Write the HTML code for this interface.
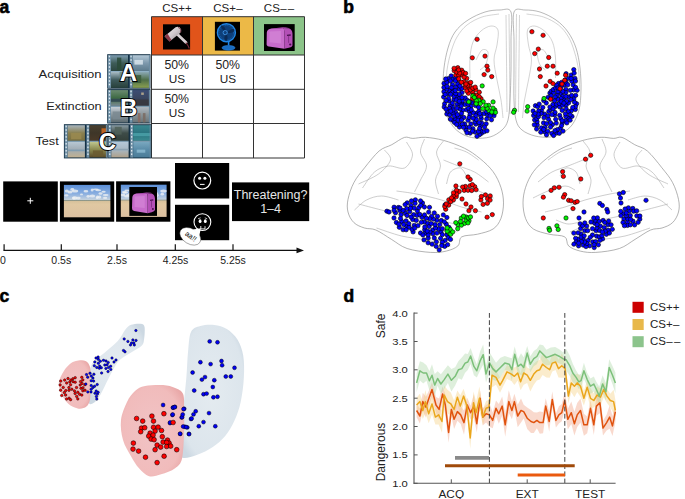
<!DOCTYPE html>
<html><head><meta charset="utf-8"><style>
html,body{margin:0;padding:0;background:#fff;width:685px;height:499px;overflow:hidden}
svg{display:block}
text{font-family:"Liberation Sans",sans-serif}
</style></head><body>
<svg width="685" height="499" viewBox="0 0 685 499">
<defs>
<linearGradient id="sky" x1="0" y1="0" x2="0" y2="1">
<stop offset="0" stop-color="#5b8fd8"/><stop offset="0.28" stop-color="#8cb0e0"/><stop offset="0.45" stop-color="#c2d0de"/><stop offset="0.48" stop-color="#8a9488"/><stop offset="0.5" stop-color="#d6c09a"/><stop offset="0.6" stop-color="#e0c8a2"/><stop offset="1" stop-color="#dcc0a0"/>
</linearGradient>
<filter id="blur1" x="-20%" y="-20%" width="140%" height="140%"><feGaussianBlur stdDeviation="0.6"/></filter>
<radialGradient id="toast" cx="0.4" cy="0.4" r="0.7">
<stop offset="0" stop-color="#e89be6"/><stop offset="0.6" stop-color="#c35fc4"/><stop offset="1" stop-color="#7a2a80"/>
</radialGradient>
</defs><text x="-0.6" y="12.9" font-family="Liberation Sans, sans-serif" font-size="17.5" font-weight="bold" fill="#000" stroke="#000" stroke-width="0.6">a</text><text x="343.2" y="12.9" font-family="Liberation Sans, sans-serif" font-size="17.5" font-weight="bold" fill="#000" stroke="#000" stroke-width="0.6">b</text><text x="-0.4" y="301.9" font-family="Liberation Sans, sans-serif" font-size="17.5" font-weight="bold" fill="#000" stroke="#000" stroke-width="0.6">c</text><text x="343.4" y="301.9" font-family="Liberation Sans, sans-serif" font-size="17.5" font-weight="bold" fill="#000" stroke="#000" stroke-width="0.6">d</text><rect x="151.5" y="16.7" width="51.0" height="38.3" fill="#e1541a"/><rect x="202.5" y="16.7" width="51.0" height="38.3" fill="#ecb947"/><rect x="253.5" y="16.7" width="51.0" height="38.3" fill="#8cc489"/><text x="177.0" y="12.1" font-family="Liberation Sans, sans-serif" font-size="11.5" text-anchor="middle" fill="#222">CS++</text><text x="228.0" y="12.1" font-family="Liberation Sans, sans-serif" font-size="11.5" text-anchor="middle" fill="#222">CS+<tspan dx="0.3">–</tspan></text><text x="279.0" y="12.1" font-family="Liberation Sans, sans-serif" font-size="11.5" text-anchor="middle" fill="#222">CS<tspan dx="0.3">–</tspan><tspan dx="1.2">–</tspan></text><rect x="163" y="24.3" width="27.1" height="25.2" fill="#000"/><defs><linearGradient id="dry" x1="0" y1="0" x2="1" y2="1"><stop offset="0" stop-color="#f2eeee"/><stop offset="0.5" stop-color="#cfc8cc"/><stop offset="1" stop-color="#8e8488"/></linearGradient></defs><path d="M176,33 L186,42.5" stroke="#d6cfd2" stroke-width="2.8" stroke-linecap="round"/><path d="M185.8,42.6 Q188,45 189.3,48.5" stroke="#7a2a3a" stroke-width="1.1" fill="none"/><path d="M164.6,36.2 L175.6,27.2 Q179.6,26 180.9,29.2 Q181.6,32 179.5,33.6 L169.6,41.6 Z" fill="url(#dry)"/><path d="M164.6,36.2 L167.6,33.8 L171.4,40 L169.6,41.6 Z" fill="#8a3646"/><path d="M178.2,27.5 Q181.8,28.5 180.6,32.6" stroke="#7a3a48" stroke-width="1" fill="none"/><rect x="214.9" y="21.8" width="25.1" height="28.8" fill="#000"/><circle cx="226.4" cy="32.7" r="9" fill="#0d3f7a" stroke="#1f86e6" stroke-width="1.4"/><circle cx="226.4" cy="32.7" r="7.2" fill="none" stroke="#1a74cc" stroke-width="0.6" stroke-dasharray="1,1"/><path d="M226.4,32.7 Q220,28 221,25.5 Q225,25 226.4,32.7 Z M226.4,32.7 Q233,27 234.5,30 Q233.5,34 226.4,32.7 Z M226.4,32.7 Q229,40 226,41 Q222.5,39 226.4,32.7 Z" fill="#0a2a55"/><circle cx="225.2" cy="32.6" r="2.1" fill="#0d3f7a" stroke="#4aa8ff" stroke-width="0.7"/><path d="M228.6,41.3 L228.6,45.5" stroke="#1f86e6" stroke-width="1.6"/><ellipse cx="228.5" cy="47.8" rx="6.5" ry="2.4" fill="#1a6cc0" stroke="#2a8ef0" stroke-width="0.5"/><rect x="264" y="24.1" width="30.7" height="26.9" fill="#000"/><path d="M266.8,32.6 Q267.1,28.9 271.6,28.5 L282.7,28.1 Q284.3,28.5 284.3,31.5 L284.3,48.8 L268.9,46.6 Q266.3,46.0 266.6,43.4 Z" fill="#c76ccb"/><path d="M282.7,28.1 L288.8,28.3 Q292.3,29.4 292.5,33.7 L292.5,45.6 Q292.0,47.3 288.8,47.7 L284.3,48.8 L284.3,31.5 Q284.3,28.5 282.7,28.1 Z" fill="#b350b6"/><path d="M269.5,31.5 L280.9,31.1 L280.9,43.4 L269.5,42.3 Z" fill="#d58ad8" opacity="0.6"/><path d="M270.3,28.7 L282.7,27.2 L288.8,27.6 L279.6,29.1 Z" fill="#a848ac"/><path d="M287.0,35.4 L290.7,35.0" stroke="#4a1050" stroke-width="1.3"/><path d="M288.6,35.4 L288.6,42.8" stroke="#6a2070" stroke-width="0.6"/><circle cx="290.2" cy="44.5" r="1.1" fill="#4a1050"/><line x1="151.5" y1="16.7" x2="151.5" y2="158.0" stroke="#333" stroke-width="1"/><line x1="202.5" y1="16.7" x2="202.5" y2="158.0" stroke="#333" stroke-width="1"/><line x1="253.5" y1="16.7" x2="253.5" y2="158.0" stroke="#333" stroke-width="1"/><line x1="304.5" y1="16.7" x2="304.5" y2="158.0" stroke="#333" stroke-width="1"/><line x1="151.5" y1="16.7" x2="304.5" y2="16.7" stroke="#333" stroke-width="1"/><line x1="151.5" y1="55.0" x2="304.5" y2="55.0" stroke="#333" stroke-width="1"/><line x1="151.5" y1="89.3" x2="304.5" y2="89.3" stroke="#333" stroke-width="1"/><line x1="151.5" y1="123.5" x2="304.5" y2="123.5" stroke="#333" stroke-width="1"/><line x1="151.5" y1="158.0" x2="304.5" y2="158.0" stroke="#333" stroke-width="1"/><text x="164.4" y="68.9" font-family="Liberation Sans, sans-serif" font-size="12" textLength="24.6" lengthAdjust="spacingAndGlyphs" fill="#222">50%</text><text x="177" y="82.7" font-family="Liberation Sans, sans-serif" font-size="11.8" text-anchor="middle" fill="#222">US</text><text x="215.4" y="68.9" font-family="Liberation Sans, sans-serif" font-size="12" textLength="24.6" lengthAdjust="spacingAndGlyphs" fill="#222">50%</text><text x="228" y="82.7" font-family="Liberation Sans, sans-serif" font-size="11.8" text-anchor="middle" fill="#222">US</text><text x="164.4" y="102.9" font-family="Liberation Sans, sans-serif" font-size="12" textLength="24.6" lengthAdjust="spacingAndGlyphs" fill="#222">50%</text><text x="177" y="116.7" font-family="Liberation Sans, sans-serif" font-size="11.8" text-anchor="middle" fill="#222">US</text><text x="38.6" y="78" font-family="Liberation Sans, sans-serif" font-size="11.8" textLength="63" lengthAdjust="spacingAndGlyphs" fill="#222">Acquisition</text><text x="46.2" y="109.5" font-family="Liberation Sans, sans-serif" font-size="11.8" textLength="55.5" lengthAdjust="spacingAndGlyphs" fill="#222">Extinction</text><text x="35.4" y="144.7" font-family="Liberation Sans, sans-serif" font-size="11.8" textLength="23.4" lengthAdjust="spacingAndGlyphs" fill="#222">Test</text><rect x="107.2" y="54.2" width="43.3" height="34.5" fill="#163246"/><rect x="108.0" y="55.0" width="3" height="32.9" fill="#6f90a6"/><rect x="108.8" y="55.7" width="1.3" height="1.6" fill="#dfe9ef"/><rect x="108.8" y="59.2" width="1.3" height="1.6" fill="#dfe9ef"/><rect x="108.8" y="62.7" width="1.3" height="1.6" fill="#dfe9ef"/><rect x="108.8" y="66.2" width="1.3" height="1.6" fill="#dfe9ef"/><rect x="108.8" y="69.7" width="1.3" height="1.6" fill="#dfe9ef"/><rect x="108.8" y="73.2" width="1.3" height="1.6" fill="#dfe9ef"/><rect x="108.8" y="76.7" width="1.3" height="1.6" fill="#dfe9ef"/><rect x="108.8" y="80.2" width="1.3" height="1.6" fill="#dfe9ef"/><rect x="108.8" y="83.7" width="1.3" height="1.6" fill="#dfe9ef"/><defs><linearGradient id="fg1" x1="0" y1="0" x2="0" y2="1"><stop offset="0" stop-color="#7d9cb0"/><stop offset="0.5" stop-color="#3e5c58"/><stop offset="1" stop-color="#2c4640"/></linearGradient></defs><rect x="111.0" y="55.2" width="17.0" height="15.8" fill="url(#fg1)"/><rect x="117.0" y="57.6" width="4.3" height="12.6" fill="#2a4a38" opacity="0.85"/><defs><linearGradient id="fg2" x1="0" y1="0" x2="0" y2="1"><stop offset="0" stop-color="#a8bcc4"/><stop offset="0.5" stop-color="#3e5a5c"/><stop offset="1" stop-color="#28403a"/></linearGradient></defs><rect x="111.0" y="72.0" width="17.0" height="15.8" fill="url(#fg2)"/><rect x="119.5" y="72.0" width="8.5" height="6.3" fill="#6a8a88" opacity="0.85"/><rect x="111.0" y="71.0" width="17.0" height="1" fill="#8fb0c4"/><rect x="129.7" y="55.0" width="3" height="32.9" fill="#6f90a6"/><rect x="130.4" y="55.7" width="1.3" height="1.6" fill="#dfe9ef"/><rect x="130.4" y="59.2" width="1.3" height="1.6" fill="#dfe9ef"/><rect x="130.4" y="62.7" width="1.3" height="1.6" fill="#dfe9ef"/><rect x="130.4" y="66.2" width="1.3" height="1.6" fill="#dfe9ef"/><rect x="130.4" y="69.7" width="1.3" height="1.6" fill="#dfe9ef"/><rect x="130.4" y="73.2" width="1.3" height="1.6" fill="#dfe9ef"/><rect x="130.4" y="76.7" width="1.3" height="1.6" fill="#dfe9ef"/><rect x="130.4" y="80.2" width="1.3" height="1.6" fill="#dfe9ef"/><rect x="130.4" y="83.7" width="1.3" height="1.6" fill="#dfe9ef"/><defs><linearGradient id="fg3" x1="0" y1="0" x2="0" y2="1"><stop offset="0" stop-color="#b4c8d6"/><stop offset="0.5" stop-color="#7d98ac"/><stop offset="1" stop-color="#5c7a8c"/></linearGradient></defs><rect x="132.7" y="55.2" width="17.0" height="15.8" fill="url(#fg3)"/><rect x="134.4" y="59.9" width="8.5" height="4.7" fill="#d8e4ec" opacity="0.85"/><defs><linearGradient id="fg4" x1="0" y1="0" x2="0" y2="1"><stop offset="0" stop-color="#8aa8b4"/><stop offset="0.5" stop-color="#4e6e48"/><stop offset="1" stop-color="#8aa050"/></linearGradient></defs><rect x="132.7" y="72.0" width="17.0" height="15.8" fill="url(#fg4)"/><rect x="132.7" y="75.1" width="8.5" height="7.9" fill="#3a5a3a" opacity="0.85"/><rect x="132.7" y="71.0" width="17.0" height="1" fill="#8fb0c4"/><rect x="148.9" y="55.0" width="1" height="32.9" fill="#6f90a6"/><rect x="107.2" y="89.1" width="43.3" height="34.4" fill="#163246"/><rect x="108.0" y="89.9" width="3" height="32.8" fill="#6f90a6"/><rect x="108.8" y="90.6" width="1.3" height="1.6" fill="#dfe9ef"/><rect x="108.8" y="94.1" width="1.3" height="1.6" fill="#dfe9ef"/><rect x="108.8" y="97.6" width="1.3" height="1.6" fill="#dfe9ef"/><rect x="108.8" y="101.1" width="1.3" height="1.6" fill="#dfe9ef"/><rect x="108.8" y="104.6" width="1.3" height="1.6" fill="#dfe9ef"/><rect x="108.8" y="108.0" width="1.3" height="1.6" fill="#dfe9ef"/><rect x="108.8" y="111.5" width="1.3" height="1.6" fill="#dfe9ef"/><rect x="108.8" y="115.0" width="1.3" height="1.6" fill="#dfe9ef"/><rect x="108.8" y="118.5" width="1.3" height="1.6" fill="#dfe9ef"/><defs><linearGradient id="fg5" x1="0" y1="0" x2="0" y2="1"><stop offset="0" stop-color="#6a8a70"/><stop offset="0.5" stop-color="#3e6a44"/><stop offset="1" stop-color="#7a8a90"/></linearGradient></defs><rect x="111.0" y="90.1" width="17.0" height="15.7" fill="url(#fg5)"/><rect x="111.0" y="98.7" width="17.0" height="3.1" fill="#2e4450" opacity="0.85"/><defs><linearGradient id="fg6" x1="0" y1="0" x2="0" y2="1"><stop offset="0" stop-color="#c8d0d8"/><stop offset="0.5" stop-color="#8a969c"/><stop offset="1" stop-color="#5c6a70"/></linearGradient></defs><rect x="111.0" y="106.8" width="17.0" height="15.7" fill="url(#fg6)"/><rect x="112.7" y="111.5" width="10.2" height="7.8" fill="#7a8890" opacity="0.85"/><rect x="111.0" y="105.8" width="17.0" height="1" fill="#8fb0c4"/><rect x="129.7" y="89.9" width="3" height="32.8" fill="#6f90a6"/><rect x="130.4" y="90.6" width="1.3" height="1.6" fill="#dfe9ef"/><rect x="130.4" y="94.1" width="1.3" height="1.6" fill="#dfe9ef"/><rect x="130.4" y="97.6" width="1.3" height="1.6" fill="#dfe9ef"/><rect x="130.4" y="101.1" width="1.3" height="1.6" fill="#dfe9ef"/><rect x="130.4" y="104.6" width="1.3" height="1.6" fill="#dfe9ef"/><rect x="130.4" y="108.0" width="1.3" height="1.6" fill="#dfe9ef"/><rect x="130.4" y="111.5" width="1.3" height="1.6" fill="#dfe9ef"/><rect x="130.4" y="115.0" width="1.3" height="1.6" fill="#dfe9ef"/><rect x="130.4" y="118.5" width="1.3" height="1.6" fill="#dfe9ef"/><defs><linearGradient id="fg7" x1="0" y1="0" x2="0" y2="1"><stop offset="0" stop-color="#3c4d74"/><stop offset="0.5" stop-color="#3a4660"/><stop offset="1" stop-color="#2a3040"/></linearGradient></defs><rect x="132.7" y="90.1" width="17.0" height="15.7" fill="url(#fg7)"/><rect x="141.2" y="92.5" width="2.6" height="2.4" fill="#c0b090" opacity="0.85"/><rect x="132.7" y="99.5" width="17.0" height="6.3" fill="#3a3a40" opacity="0.85"/><defs><linearGradient id="fg8" x1="0" y1="0" x2="0" y2="1"><stop offset="0" stop-color="#b0b8c0"/><stop offset="0.5" stop-color="#8a9498"/><stop offset="1" stop-color="#6a7478"/></linearGradient></defs><rect x="132.7" y="106.8" width="17.0" height="15.7" fill="url(#fg8)"/><rect x="137.8" y="113.1" width="2.6" height="9.4" fill="#8a6a60" opacity="0.85"/><rect x="142.9" y="113.1" width="2.6" height="9.4" fill="#7a6a60" opacity="0.85"/><rect x="132.7" y="105.8" width="17.0" height="1" fill="#8fb0c4"/><rect x="148.9" y="89.9" width="1" height="32.8" fill="#6f90a6"/><rect x="63.9" y="124.2" width="43.6" height="34.2" fill="#163246"/><rect x="64.7" y="125.0" width="3" height="32.6" fill="#6f90a6"/><rect x="65.5" y="125.7" width="1.3" height="1.6" fill="#dfe9ef"/><rect x="65.5" y="129.2" width="1.3" height="1.6" fill="#dfe9ef"/><rect x="65.5" y="132.6" width="1.3" height="1.6" fill="#dfe9ef"/><rect x="65.5" y="136.1" width="1.3" height="1.6" fill="#dfe9ef"/><rect x="65.5" y="139.6" width="1.3" height="1.6" fill="#dfe9ef"/><rect x="65.5" y="143.0" width="1.3" height="1.6" fill="#dfe9ef"/><rect x="65.5" y="146.5" width="1.3" height="1.6" fill="#dfe9ef"/><rect x="65.5" y="150.0" width="1.3" height="1.6" fill="#dfe9ef"/><rect x="65.5" y="153.4" width="1.3" height="1.6" fill="#dfe9ef"/><defs><linearGradient id="fg9" x1="0" y1="0" x2="0" y2="1"><stop offset="0" stop-color="#a8b4bc"/><stop offset="0.5" stop-color="#8a8050"/><stop offset="1" stop-color="#7a7040"/></linearGradient></defs><rect x="67.7" y="125.2" width="17.2" height="15.6" fill="url(#fg9)"/><rect x="71.1" y="133.0" width="10.3" height="6.2" fill="#9a8a50" opacity="0.85"/><defs><linearGradient id="fg10" x1="0" y1="0" x2="0" y2="1"><stop offset="0" stop-color="#b8c8d4"/><stop offset="0.5" stop-color="#a0acb4"/><stop offset="1" stop-color="#c0b090"/></linearGradient></defs><rect x="67.7" y="141.8" width="17.2" height="15.6" fill="url(#fg10)"/><rect x="67.7" y="149.6" width="17.2" height="1.6" fill="#7a9ab0" opacity="0.85"/><rect x="67.7" y="140.8" width="17.2" height="1" fill="#8fb0c4"/><rect x="86.5" y="125.0" width="3" height="32.6" fill="#6f90a6"/><rect x="87.3" y="125.7" width="1.3" height="1.6" fill="#dfe9ef"/><rect x="87.3" y="129.2" width="1.3" height="1.6" fill="#dfe9ef"/><rect x="87.3" y="132.6" width="1.3" height="1.6" fill="#dfe9ef"/><rect x="87.3" y="136.1" width="1.3" height="1.6" fill="#dfe9ef"/><rect x="87.3" y="139.6" width="1.3" height="1.6" fill="#dfe9ef"/><rect x="87.3" y="143.0" width="1.3" height="1.6" fill="#dfe9ef"/><rect x="87.3" y="146.5" width="1.3" height="1.6" fill="#dfe9ef"/><rect x="87.3" y="150.0" width="1.3" height="1.6" fill="#dfe9ef"/><rect x="87.3" y="153.4" width="1.3" height="1.6" fill="#dfe9ef"/><defs><linearGradient id="fg11" x1="0" y1="0" x2="0" y2="1"><stop offset="0" stop-color="#4a4030"/><stop offset="0.5" stop-color="#3e3628"/><stop offset="1" stop-color="#4a3a28"/></linearGradient></defs><rect x="89.5" y="125.2" width="17.2" height="15.6" fill="url(#fg11)"/><rect x="101.5" y="128.3" width="5.2" height="6.2" fill="#d06a20" opacity="0.85"/><defs><linearGradient id="fg12" x1="0" y1="0" x2="0" y2="1"><stop offset="0" stop-color="#c0c890"/><stop offset="0.5" stop-color="#8a8a50"/><stop offset="1" stop-color="#5a4a28"/></linearGradient></defs><rect x="89.5" y="141.8" width="17.2" height="15.6" fill="url(#fg12)"/><rect x="92.9" y="150.4" width="10.3" height="6.2" fill="#6a5a30" opacity="0.85"/><rect x="89.5" y="140.8" width="17.2" height="1" fill="#8fb0c4"/><rect x="105.9" y="125.0" width="1" height="32.6" fill="#6f90a6"/><rect x="107.5" y="124.2" width="43.8" height="34.2" fill="#163246"/><rect x="108.3" y="125.0" width="3" height="32.6" fill="#6f90a6"/><rect x="109.1" y="125.7" width="1.3" height="1.6" fill="#dfe9ef"/><rect x="109.1" y="129.2" width="1.3" height="1.6" fill="#dfe9ef"/><rect x="109.1" y="132.6" width="1.3" height="1.6" fill="#dfe9ef"/><rect x="109.1" y="136.1" width="1.3" height="1.6" fill="#dfe9ef"/><rect x="109.1" y="139.6" width="1.3" height="1.6" fill="#dfe9ef"/><rect x="109.1" y="143.0" width="1.3" height="1.6" fill="#dfe9ef"/><rect x="109.1" y="146.5" width="1.3" height="1.6" fill="#dfe9ef"/><rect x="109.1" y="150.0" width="1.3" height="1.6" fill="#dfe9ef"/><rect x="109.1" y="153.4" width="1.3" height="1.6" fill="#dfe9ef"/><defs><linearGradient id="fg13" x1="0" y1="0" x2="0" y2="1"><stop offset="0" stop-color="#8a9ca4"/><stop offset="0.5" stop-color="#3e4c48"/><stop offset="1" stop-color="#34403a"/></linearGradient></defs><rect x="111.3" y="125.2" width="17.3" height="15.6" fill="url(#fg13)"/><rect x="114.8" y="126.8" width="6.9" height="7.8" fill="#506058" opacity="0.85"/><defs><linearGradient id="fg14" x1="0" y1="0" x2="0" y2="1"><stop offset="0" stop-color="#b4c8d8"/><stop offset="0.5" stop-color="#a8b8c4"/><stop offset="1" stop-color="#b0a088"/></linearGradient></defs><rect x="111.3" y="141.8" width="17.3" height="15.6" fill="url(#fg14)"/><rect x="111.3" y="148.8" width="17.3" height="1.6" fill="#8aa0b0" opacity="0.85"/><rect x="111.3" y="140.8" width="17.3" height="1" fill="#8fb0c4"/><rect x="130.2" y="125.0" width="3" height="32.6" fill="#6f90a6"/><rect x="131.0" y="125.7" width="1.3" height="1.6" fill="#dfe9ef"/><rect x="131.0" y="129.2" width="1.3" height="1.6" fill="#dfe9ef"/><rect x="131.0" y="132.6" width="1.3" height="1.6" fill="#dfe9ef"/><rect x="131.0" y="136.1" width="1.3" height="1.6" fill="#dfe9ef"/><rect x="131.0" y="139.6" width="1.3" height="1.6" fill="#dfe9ef"/><rect x="131.0" y="143.0" width="1.3" height="1.6" fill="#dfe9ef"/><rect x="131.0" y="146.5" width="1.3" height="1.6" fill="#dfe9ef"/><rect x="131.0" y="150.0" width="1.3" height="1.6" fill="#dfe9ef"/><rect x="131.0" y="153.4" width="1.3" height="1.6" fill="#dfe9ef"/><defs><linearGradient id="fg15" x1="0" y1="0" x2="0" y2="1"><stop offset="0" stop-color="#3a8890"/><stop offset="0.5" stop-color="#2a7480"/><stop offset="1" stop-color="#3a8a90"/></linearGradient></defs><rect x="133.2" y="125.2" width="17.3" height="15.6" fill="url(#fg15)"/><rect x="133.2" y="133.0" width="17.3" height="3.1" fill="#4aa0a8" opacity="0.85"/><defs><linearGradient id="fg16" x1="0" y1="0" x2="0" y2="1"><stop offset="0" stop-color="#7aa8c0"/><stop offset="0.5" stop-color="#5a8ca8"/><stop offset="1" stop-color="#4a7c98"/></linearGradient></defs><rect x="133.2" y="141.8" width="17.3" height="15.6" fill="url(#fg16)"/><rect x="136.7" y="149.6" width="8.6" height="3.1" fill="#8ab8d0" opacity="0.85"/><rect x="133.2" y="140.8" width="17.3" height="1" fill="#8fb0c4"/><rect x="149.7" y="125.0" width="1" height="32.6" fill="#6f90a6"/><text x="128.3" y="81.2" font-family="Liberation Sans, sans-serif" font-size="24" font-weight="bold" text-anchor="middle" fill="#fff" stroke="#000" stroke-width="1.8" paint-order="stroke">A</text><text x="128.6" y="116.2" font-family="Liberation Sans, sans-serif" font-size="24" font-weight="bold" text-anchor="middle" fill="#fff" stroke="#000" stroke-width="1.8" paint-order="stroke">B</text><text x="107.4" y="150.0" font-family="Liberation Sans, sans-serif" font-size="24" font-weight="bold" text-anchor="middle" fill="#fff" stroke="#000" stroke-width="1.8" paint-order="stroke">C</text><rect x="3.2" y="181.4" width="54.6" height="40.3" fill="#000"/><path d="M30.3,197.8 L30.3,203.8 M27.3,200.8 L33.3,200.8" stroke="#fff" stroke-width="1"/><rect x="59.9" y="181.4" width="54.3" height="40.3" fill="#000"/><rect x="63.9" y="184.9" width="46.5" height="32.4" fill="url(#sky)"/><g filter="url(#blur1)"><ellipse cx="92.3" cy="196.0" rx="2.9" ry="1.6" fill="#eef0f2" opacity="0.8"/><ellipse cx="97.2" cy="197.8" rx="1.5" ry="1.2" fill="#eef0f2" opacity="0.8"/><ellipse cx="105.7" cy="195.1" rx="3.0" ry="1.0" fill="#eef0f2" opacity="0.8"/><ellipse cx="85.9" cy="191.2" rx="2.4" ry="1.3" fill="#eef0f2" opacity="0.8"/><ellipse cx="66.8" cy="190.9" rx="2.0" ry="1.5" fill="#eef0f2" opacity="0.8"/><ellipse cx="98.3" cy="190.3" rx="2.9" ry="1.0" fill="#eef0f2" opacity="0.8"/><ellipse cx="92.1" cy="190.0" rx="1.5" ry="1.5" fill="#eef0f2" opacity="0.8"/><ellipse cx="75.0" cy="190.9" rx="3.2" ry="1.5" fill="#eef0f2" opacity="0.8"/><ellipse cx="78.3" cy="198.1" rx="2.4" ry="1.4" fill="#eef0f2" opacity="0.8"/><ellipse cx="74.8" cy="197.9" rx="2.7" ry="1.6" fill="#eef0f2" opacity="0.8"/><ellipse cx="103.6" cy="191.7" rx="2.1" ry="1.0" fill="#eef0f2" opacity="0.8"/><ellipse cx="72.3" cy="189.4" rx="2.0" ry="1.3" fill="#eef0f2" opacity="0.8"/><ellipse cx="66.4" cy="195.4" rx="2.1" ry="1.1" fill="#eef0f2" opacity="0.8"/><ellipse cx="100.5" cy="193.5" rx="2.0" ry="1.2" fill="#eef0f2" opacity="0.8"/><ellipse cx="95.7" cy="189.3" rx="3.2" ry="0.9" fill="#eef0f2" opacity="0.8"/><ellipse cx="97.6" cy="197.0" rx="1.5" ry="1.5" fill="#eef0f2" opacity="0.8"/><ellipse cx="81.5" cy="194.4" rx="1.5" ry="0.9" fill="#eef0f2" opacity="0.8"/><ellipse cx="73.8" cy="198.1" rx="1.8" ry="1.4" fill="#eef0f2" opacity="0.8"/><ellipse cx="105.1" cy="197.9" rx="2.1" ry="1.1" fill="#eef0f2" opacity="0.8"/><ellipse cx="88.2" cy="196.3" rx="1.7" ry="1.4" fill="#eef0f2" opacity="0.8"/><ellipse cx="99.6" cy="197.1" rx="1.6" ry="1.6" fill="#eef0f2" opacity="0.8"/><ellipse cx="70.0" cy="192.1" rx="2.5" ry="1.5" fill="#eef0f2" opacity="0.8"/></g><rect x="116.1" y="181.3" width="54.3" height="40.4" fill="#000"/><rect x="120.8" y="184.7" width="45.8" height="32.2" fill="url(#sky)"/><g filter="url(#blur1)"><ellipse cx="155.8" cy="196.5" rx="2.3" ry="1.1" fill="#eef0f2" opacity="0.8"/><ellipse cx="123.1" cy="195.0" rx="2.3" ry="1.4" fill="#eef0f2" opacity="0.8"/><ellipse cx="138.5" cy="196.0" rx="2.0" ry="1.5" fill="#eef0f2" opacity="0.8"/><ellipse cx="153.2" cy="192.6" rx="2.4" ry="1.4" fill="#eef0f2" opacity="0.8"/><ellipse cx="131.0" cy="193.9" rx="2.9" ry="1.1" fill="#eef0f2" opacity="0.8"/><ellipse cx="156.2" cy="195.2" rx="2.9" ry="1.1" fill="#eef0f2" opacity="0.8"/><ellipse cx="126.9" cy="196.3" rx="2.9" ry="1.2" fill="#eef0f2" opacity="0.8"/><ellipse cx="127.0" cy="190.5" rx="2.6" ry="1.1" fill="#eef0f2" opacity="0.8"/><ellipse cx="162.3" cy="194.2" rx="1.8" ry="1.4" fill="#eef0f2" opacity="0.8"/><ellipse cx="137.9" cy="197.6" rx="3.0" ry="1.3" fill="#eef0f2" opacity="0.8"/><ellipse cx="149.7" cy="195.3" rx="2.9" ry="1.6" fill="#eef0f2" opacity="0.8"/><ellipse cx="124.3" cy="192.1" rx="2.5" ry="1.1" fill="#eef0f2" opacity="0.8"/><ellipse cx="147.4" cy="189.4" rx="3.0" ry="1.3" fill="#eef0f2" opacity="0.8"/><ellipse cx="127.9" cy="195.0" rx="2.0" ry="1.0" fill="#eef0f2" opacity="0.8"/><ellipse cx="143.0" cy="189.9" rx="1.9" ry="1.5" fill="#eef0f2" opacity="0.8"/><ellipse cx="151.9" cy="188.7" rx="2.8" ry="0.9" fill="#eef0f2" opacity="0.8"/><ellipse cx="136.8" cy="197.3" rx="2.6" ry="1.1" fill="#eef0f2" opacity="0.8"/><ellipse cx="138.6" cy="192.3" rx="1.7" ry="1.6" fill="#eef0f2" opacity="0.8"/><ellipse cx="125.3" cy="192.6" rx="2.8" ry="1.2" fill="#eef0f2" opacity="0.8"/><ellipse cx="163.5" cy="190.9" rx="3.2" ry="1.5" fill="#eef0f2" opacity="0.8"/><ellipse cx="150.7" cy="197.2" rx="2.3" ry="1.5" fill="#eef0f2" opacity="0.8"/><ellipse cx="155.9" cy="193.6" rx="2.3" ry="1.4" fill="#eef0f2" opacity="0.8"/></g><rect x="129.3" y="187" width="27.7" height="28.9" fill="#000"/><path d="M132.3,197.6 Q132.5,194.1 136.5,193.6 L146.3,193.2 Q147.7,193.6 147.7,196.6 L147.7,213.2 L134.1,211.1 Q131.8,210.5 132.0,208.0 Z" fill="#c76ccb"/><path d="M146.3,193.2 L151.7,193.4 Q154.7,194.5 155.0,198.6 L155.0,210.1 Q154.5,211.7 151.7,212.2 L147.7,213.2 L147.7,196.6 Q147.7,193.6 146.3,193.2 Z" fill="#b350b6"/><path d="M134.6,196.6 L144.7,196.1 L144.7,208.0 L134.6,207.0 Z" fill="#d58ad8" opacity="0.6"/><path d="M135.3,193.9 L146.3,192.4 L151.7,192.8 L143.5,194.3 Z" fill="#a848ac"/><path d="M150.1,200.3 L153.3,199.9" stroke="#4a1050" stroke-width="1.2"/><path d="M151.5,200.3 L151.5,207.4" stroke="#6a2070" stroke-width="0.6"/><circle cx="152.9" cy="209.0" r="1.0" fill="#4a1050"/><rect x="175" y="163" width="54.2" height="35.5" fill="#000"/><rect x="175" y="204.8" width="54.2" height="35.4" fill="#000"/><circle cx="202.3" cy="180.6" r="8.4" fill="none" stroke="#fff" stroke-width="1.2"/><circle cx="199.6" cy="178.2" r="1.5" fill="#fff"/><circle cx="204.9" cy="178.2" r="1.5" fill="#fff"/><line x1="200" y1="184.4" x2="204.6" y2="184.4" stroke="#fff" stroke-width="1"/><circle cx="202.4" cy="222.1" r="8.4" fill="none" stroke="#fff" stroke-width="1.1"/><ellipse cx="200.1" cy="221.2" rx="1.4" ry="1.9" fill="#fff"/><ellipse cx="205.3" cy="221.2" rx="1.4" ry="1.9" fill="#fff"/><path d="M198,218.8 L200.6,217.8 M204.8,217.8 L207.2,218.8" stroke="#fff" stroke-width="0.7" fill="none"/><path d="M200.8,226 L200.8,228.9 L205,228.9 L205,226.2" stroke="#fff" stroke-width="0.9" fill="none"/><g transform="rotate(32 190.3 236.3)"><ellipse cx="190.3" cy="236.3" rx="11.4" ry="7.6" fill="#fff" stroke="#333" stroke-width="0.4"/></g><path d="M193,229.6 L200.9,228.3 L199.2,236 Z" fill="#fff"/><text x="191" y="238.8" font-family="Liberation Sans, sans-serif" font-size="7.4" text-anchor="middle" fill="#111" transform="rotate(36 191 236.3)">aa!!</text><rect x="232" y="182.4" width="77.2" height="38.7" fill="#000"/><text x="270.6" y="199.3" font-family="Liberation Sans, sans-serif" font-size="12.5" text-anchor="middle" fill="#e6e6e6">Threatening?</text><text x="270.6" y="213" font-family="Liberation Sans, sans-serif" font-size="12.5" text-anchor="middle" fill="#e6e6e6">1–4</text><line x1="3.5" y1="250.4" x2="298" y2="250.4" stroke="#111" stroke-width="1.3"/><path d="M296.5,247.6 L304,250.4 L296.5,253.2 Z" fill="#111"/><line x1="4.1" y1="244.2" x2="4.1" y2="250.4" stroke="#111" stroke-width="1.2"/><line x1="61.3" y1="244.2" x2="61.3" y2="250.4" stroke="#111" stroke-width="1.2"/><line x1="117" y1="244.2" x2="117" y2="250.4" stroke="#111" stroke-width="1.2"/><line x1="175.3" y1="244.2" x2="175.3" y2="250.4" stroke="#111" stroke-width="1.2"/><line x1="233" y1="244.2" x2="233" y2="250.4" stroke="#111" stroke-width="1.2"/><text x="3" y="263.6" font-family="Liberation Sans, sans-serif" font-size="10.5" text-anchor="middle" fill="#222">0</text><text x="61.3" y="263.6" font-family="Liberation Sans, sans-serif" font-size="10.5" text-anchor="middle" fill="#222">0.5s</text><text x="117" y="263.6" font-family="Liberation Sans, sans-serif" font-size="10.5" text-anchor="middle" fill="#222">2.5s</text><text x="175.5" y="263.6" font-family="Liberation Sans, sans-serif" font-size="10.5" text-anchor="middle" fill="#222">4.25s</text><text x="233" y="263.6" font-family="Liberation Sans, sans-serif" font-size="10.5" text-anchor="middle" fill="#222">5.25s</text><path d="M511.0,12.0 C509.2,7.0 504.3,10.0 500.0,10.0 C495.7,10.0 490.3,10.3 485.0,12.0 C479.7,13.7 473.0,16.7 468.0,20.0 C463.0,23.3 458.3,27.3 455.0,32.0 C451.7,36.7 449.8,42.0 448.0,48.0 C446.2,54.0 444.8,61.0 444.0,68.0 C443.2,75.0 442.8,83.0 443.0,90.0 C443.2,97.0 443.5,104.2 445.0,110.0 C446.5,115.8 449.2,121.0 452.0,125.0 C454.8,129.0 458.2,131.8 462.0,134.0 C465.8,136.2 470.3,137.5 475.0,138.0 C479.7,138.5 485.5,138.3 490.0,137.0 C494.5,135.7 499.0,132.8 502.0,130.0 C505.0,127.2 506.7,125.0 508.0,120.0 C509.3,115.0 509.5,108.3 510.0,100.0 C510.5,91.7 510.8,80.0 511.0,70.0 C511.2,60.0 511.0,49.7 511.0,40.0 C511.0,30.3 512.8,17.0 511.0,12.0 Z" fill="#fff" stroke="#8a8a8a" stroke-width="0.6"/><path d="M514.0,12.0 C515.8,7.0 520.7,10.0 525.0,10.0 C529.3,10.0 534.8,10.3 540.0,12.0 C545.2,13.7 551.3,16.7 556.0,20.0 C560.7,23.3 564.7,27.3 568.0,32.0 C571.3,36.7 574.0,42.0 576.0,48.0 C578.0,54.0 579.2,61.0 580.0,68.0 C580.8,75.0 581.2,83.0 581.0,90.0 C580.8,97.0 580.5,104.2 579.0,110.0 C577.5,115.8 574.8,121.2 572.0,125.0 C569.2,128.8 565.7,131.0 562.0,133.0 C558.3,135.0 554.5,136.5 550.0,137.0 C545.5,137.5 539.7,137.2 535.0,136.0 C530.3,134.8 525.2,132.7 522.0,130.0 C518.8,127.3 517.3,125.0 516.0,120.0 C514.7,115.0 514.3,108.3 514.0,100.0 C513.7,91.7 514.0,80.0 514.0,70.0 C514.0,60.0 514.0,49.7 514.0,40.0 C514.0,30.3 512.2,17.0 514.0,12.0 Z" fill="#fff" stroke="#8a8a8a" stroke-width="0.6"/><path d="M499.0,14.0 C496.2,14.5 487.3,15.2 482.0,17.0 C476.7,18.8 471.2,21.7 467.0,25.0 C462.8,28.3 459.7,32.5 457.0,37.0 C454.3,41.5 452.7,46.5 451.0,52.0 C449.3,57.5 447.8,64.0 447.0,70.0 C446.2,76.0 446.2,85.0 446.0,88.0" fill="none" stroke="#a8a8a8" stroke-width="0.5"/><path d="M526.5,14.0 C529.3,14.5 538.2,15.2 543.5,17.0 C548.8,18.8 554.3,21.7 558.5,25.0 C562.7,28.3 565.8,32.5 568.5,37.0 C571.2,41.5 572.8,46.5 574.5,52.0 C576.2,57.5 577.7,64.0 578.5,70.0 C579.3,76.0 579.3,85.0 579.5,88.0" fill="none" stroke="#a8a8a8" stroke-width="0.5"/><path d="M470.0,78.0 C470.0,74.7 469.5,64.0 470.0,58.0 C470.5,52.0 471.2,46.5 473.0,42.0 C474.8,37.5 478.0,33.7 481.0,31.0 C484.0,28.3 488.2,26.2 491.0,26.0 C493.8,25.8 497.0,26.8 498.0,30.0 C499.0,33.2 497.7,40.0 497.0,45.0 C496.3,50.0 494.0,54.2 494.0,60.0 C494.0,65.8 495.8,73.3 497.0,80.0 C498.2,86.7 500.0,93.7 501.0,100.0 C502.0,106.3 502.7,115.0 503.0,118.0" fill="none" stroke="#a8a8a8" stroke-width="0.5"/><path d="M555.5,78.0 C555.5,74.7 556.0,64.0 555.5,58.0 C555.0,52.0 554.3,46.5 552.5,42.0 C550.7,37.5 547.5,33.7 544.5,31.0 C541.5,28.3 537.3,26.2 534.5,26.0 C531.7,25.8 528.5,26.8 527.5,30.0 C526.5,33.2 527.8,40.0 528.5,45.0 C529.2,50.0 531.5,54.2 531.5,60.0 C531.5,65.8 529.7,73.3 528.5,80.0 C527.3,86.7 525.5,93.7 524.5,100.0 C523.5,106.3 522.8,115.0 522.5,118.0" fill="none" stroke="#a8a8a8" stroke-width="0.5"/><path d="M506.0,15.0 C506.1,22.5 506.3,43.8 506.5,60.0 C506.7,76.2 506.9,103.3 507.0,112.0" fill="none" stroke="#a8a8a8" stroke-width="0.5"/><path d="M519.5,15.0 C519.4,22.5 519.2,43.8 519.0,60.0 C518.8,76.2 518.6,103.3 518.5,112.0" fill="none" stroke="#a8a8a8" stroke-width="0.5"/><path d="M509.0,14.0 C509.1,21.7 509.3,43.3 509.5,60.0 C509.7,76.7 509.9,105.0 510.0,114.0" fill="none" stroke="#a8a8a8" stroke-width="0.5"/><path d="M516.5,14.0 C516.4,21.7 516.2,43.3 516.0,60.0 C515.8,76.7 515.6,105.0 515.5,114.0" fill="none" stroke="#a8a8a8" stroke-width="0.5"/><path d="M476.0,60.0 C477.0,58.3 480.0,51.3 482.0,50.0 C484.0,48.7 487.3,49.7 488.0,52.0 C488.7,54.3 487.3,61.0 486.0,64.0 C484.7,67.0 481.0,69.0 480.0,70.0" fill="none" stroke="#a8a8a8" stroke-width="0.5"/><path d="M549.5,60.0 C548.5,58.3 545.5,51.3 543.5,50.0 C541.5,48.7 538.2,49.7 537.5,52.0 C536.8,54.3 538.2,61.0 539.5,64.0 C540.8,67.0 544.5,69.0 545.5,70.0" fill="none" stroke="#a8a8a8" stroke-width="0.5"/><path d="M455.0,110.0 C456.2,111.7 459.2,117.0 462.0,120.0 C464.8,123.0 468.0,126.0 472.0,128.0 C476.0,130.0 483.7,131.3 486.0,132.0" fill="none" stroke="#a8a8a8" stroke-width="0.5"/><path d="M570.5,110.0 C569.3,111.7 566.3,117.0 563.5,120.0 C560.7,123.0 557.5,126.0 553.5,128.0 C549.5,130.0 541.8,131.3 539.5,132.0" fill="none" stroke="#a8a8a8" stroke-width="0.5"/><path d="M503.5,202.9 C503.5,197.7 502.6,192.5 500.9,187.3 C499.2,182.1 496.6,176.5 493.1,171.7 C489.6,166.9 484.8,162.5 480.0,158.6 C475.2,154.7 470.5,151.2 464.4,148.2 C458.3,145.2 450.1,142.2 443.6,140.4 C437.1,138.6 430.5,137.6 425.4,137.3 C420.3,137.0 416.3,138.4 412.8,138.4 C409.3,138.4 408.0,136.4 404.5,137.4 C401.0,138.4 396.0,142.4 391.8,144.7 C387.6,147.0 383.7,147.1 379.1,151.0 C374.6,154.9 368.7,162.6 364.5,167.9 C360.3,173.2 356.6,177.3 353.9,182.6 C351.1,187.8 349.0,194.5 348.0,199.4 C347.0,204.3 347.0,208.1 348.0,212.0 C349.0,215.9 351.1,219.9 353.9,222.6 C356.6,225.3 360.8,226.8 364.5,228.0 C368.2,229.2 371.4,228.1 375.9,230.0 C380.4,231.9 386.3,236.3 391.5,239.4 C396.7,242.5 400.6,246.3 407.1,248.5 C413.6,250.7 424.1,252.0 430.6,252.4 C437.1,252.8 441.7,252.2 446.2,251.1 C450.8,250.0 455.3,248.3 457.9,245.9 C460.5,243.5 458.5,238.8 461.8,236.8 C465.1,234.9 472.3,235.5 477.5,234.2 C482.7,232.9 489.2,231.6 493.1,229.0 C497.0,226.4 499.2,222.8 500.9,218.5 C502.6,214.2 503.5,208.1 503.5,202.9 Z" fill="#fff" stroke="#8a8a8a" stroke-width="0.65"/><path d="M443.5,141.0 C442.3,142.8 437.0,147.8 436.5,152.0 C436.0,156.2 440.7,161.3 440.5,166.0 C440.3,170.7 435.8,175.3 435.5,180.0 C435.2,184.7 438.0,191.7 438.5,194.0" fill="none" stroke="#a4a4a4" stroke-width="0.55"/><path d="M424.5,139.0 C423.8,141.2 420.2,147.5 420.5,152.0 C420.8,156.5 426.5,161.3 426.5,166.0 C426.5,170.7 422.5,175.7 420.5,180.0 C418.5,184.3 415.5,190.0 414.5,192.0" fill="none" stroke="#a4a4a4" stroke-width="0.55"/><path d="M406.5,142.0 C407.5,144.2 412.8,150.7 412.5,155.0 C412.2,159.3 408.5,166.2 404.5,168.0 C400.5,169.8 393.5,165.3 388.5,166.0 C383.5,166.7 378.8,168.3 374.5,172.0 C370.2,175.7 364.5,185.3 362.5,188.0" fill="none" stroke="#a4a4a4" stroke-width="0.55"/><path d="M384.5,150.0 C385.5,151.7 391.5,156.0 390.5,160.0 C389.5,164.0 383.8,170.0 378.5,174.0 C373.2,178.0 361.8,182.3 358.5,184.0" fill="none" stroke="#a4a4a4" stroke-width="0.55"/><path d="M481.5,212.0 C478.2,211.2 468.2,209.0 461.5,207.0 C454.8,205.0 449.0,202.2 441.5,200.0 C434.0,197.8 424.0,195.5 416.5,194.0 C409.0,192.5 399.8,191.5 396.5,191.0" fill="none" stroke="#a4a4a4" stroke-width="0.55"/><path d="M456.5,232.0 C452.3,230.3 439.8,224.7 431.5,222.0 C423.2,219.3 414.8,218.0 406.5,216.0 C398.2,214.0 389.5,212.0 381.5,210.0 C373.5,208.0 362.3,205.0 358.5,204.0" fill="none" stroke="#a4a4a4" stroke-width="0.55"/><path d="M488.5,182.0 C486.2,180.3 479.5,174.7 474.5,172.0 C469.5,169.3 463.7,168.0 458.5,166.0 C453.3,164.0 446.0,161.0 443.5,160.0" fill="none" stroke="#a4a4a4" stroke-width="0.55"/><path d="M493.5,198.0 C491.0,196.8 483.8,193.0 478.5,191.0 C473.2,189.0 466.0,186.2 461.5,186.0 C457.0,185.8 453.2,189.3 451.5,190.0" fill="none" stroke="#a4a4a4" stroke-width="0.55"/><path d="M478.5,160.0 C476.5,158.7 470.5,154.0 466.5,152.0 C462.5,150.0 456.5,148.7 454.5,148.0" fill="none" stroke="#a4a4a4" stroke-width="0.55"/><path d="M450.5,246.0 C446.5,245.0 434.7,241.7 426.5,240.0 C418.3,238.3 409.8,238.0 401.5,236.0 C393.2,234.0 380.7,229.3 376.5,228.0" fill="none" stroke="#a4a4a4" stroke-width="0.55"/><path d="M398.5,200.0 C395.7,199.3 386.8,196.0 381.5,196.0 C376.2,196.0 371.0,197.7 366.5,200.0 C362.0,202.3 356.5,208.3 354.5,210.0" fill="none" stroke="#a4a4a4" stroke-width="0.55"/><path d="M470.5,220.0 C468.5,220.7 462.5,223.7 458.5,224.0 C454.5,224.3 448.5,222.3 446.5,222.0" fill="none" stroke="#a4a4a4" stroke-width="0.55"/><path d="M466.5,176.0 C465.5,174.7 463.2,168.7 460.5,168.0 C457.8,167.3 452.8,169.3 450.5,172.0 C448.2,174.7 447.2,182.0 446.5,184.0" fill="none" stroke="#a4a4a4" stroke-width="0.55"/><path d="M523.0,202.9 C523.0,197.7 523.9,192.5 525.6,187.3 C527.3,182.1 529.9,176.5 533.4,171.7 C536.9,166.9 541.7,162.5 546.5,158.6 C551.3,154.7 556.0,151.2 562.1,148.2 C568.2,145.2 576.4,142.2 582.9,140.4 C589.4,138.6 596.0,137.6 601.1,137.3 C606.2,137.0 610.2,138.4 613.7,138.4 C617.2,138.4 618.5,136.4 622.0,137.4 C625.5,138.4 630.5,142.4 634.7,144.7 C638.9,147.0 642.9,147.1 647.4,151.0 C651.9,154.9 657.8,162.6 662.0,167.9 C666.2,173.2 669.9,177.3 672.6,182.6 C675.4,187.8 677.5,194.5 678.5,199.4 C679.5,204.3 679.5,208.1 678.5,212.0 C677.5,215.9 675.4,219.9 672.6,222.6 C669.9,225.3 665.7,226.8 662.0,228.0 C658.3,229.2 655.1,228.1 650.6,230.0 C646.1,231.9 640.2,236.3 635.0,239.4 C629.8,242.5 625.9,246.3 619.4,248.5 C612.9,250.7 602.4,252.0 595.9,252.4 C589.4,252.8 584.8,252.2 580.3,251.1 C575.8,250.0 571.2,248.3 568.6,245.9 C566.0,243.5 568.0,238.8 564.7,236.8 C561.4,234.9 554.2,235.5 549.0,234.2 C543.8,232.9 537.3,231.6 533.4,229.0 C529.5,226.4 527.3,222.8 525.6,218.5 C523.9,214.2 523.0,208.1 523.0,202.9 Z" fill="#fff" stroke="#8a8a8a" stroke-width="0.65"/><path d="M583.0,141.0 C584.2,142.8 589.5,147.8 590.0,152.0 C590.5,156.2 585.8,161.3 586.0,166.0 C586.2,170.7 590.7,175.3 591.0,180.0 C591.3,184.7 588.5,191.7 588.0,194.0" fill="none" stroke="#a4a4a4" stroke-width="0.55"/><path d="M602.0,139.0 C602.7,141.2 606.3,147.5 606.0,152.0 C605.7,156.5 600.0,161.3 600.0,166.0 C600.0,170.7 604.0,175.7 606.0,180.0 C608.0,184.3 611.0,190.0 612.0,192.0" fill="none" stroke="#a4a4a4" stroke-width="0.55"/><path d="M620.0,142.0 C619.0,144.2 613.7,150.7 614.0,155.0 C614.3,159.3 618.0,166.2 622.0,168.0 C626.0,169.8 633.0,165.3 638.0,166.0 C643.0,166.7 647.7,168.3 652.0,172.0 C656.3,175.7 662.0,185.3 664.0,188.0" fill="none" stroke="#a4a4a4" stroke-width="0.55"/><path d="M642.0,150.0 C641.0,151.7 635.0,156.0 636.0,160.0 C637.0,164.0 642.7,170.0 648.0,174.0 C653.3,178.0 664.7,182.3 668.0,184.0" fill="none" stroke="#a4a4a4" stroke-width="0.55"/><path d="M545.0,212.0 C548.3,211.2 558.3,209.0 565.0,207.0 C571.7,205.0 577.5,202.2 585.0,200.0 C592.5,197.8 602.5,195.5 610.0,194.0 C617.5,192.5 626.7,191.5 630.0,191.0" fill="none" stroke="#a4a4a4" stroke-width="0.55"/><path d="M570.0,232.0 C574.2,230.3 586.7,224.7 595.0,222.0 C603.3,219.3 611.7,218.0 620.0,216.0 C628.3,214.0 637.0,212.0 645.0,210.0 C653.0,208.0 664.2,205.0 668.0,204.0" fill="none" stroke="#a4a4a4" stroke-width="0.55"/><path d="M538.0,182.0 C540.3,180.3 547.0,174.7 552.0,172.0 C557.0,169.3 562.8,168.0 568.0,166.0 C573.2,164.0 580.5,161.0 583.0,160.0" fill="none" stroke="#a4a4a4" stroke-width="0.55"/><path d="M533.0,198.0 C535.5,196.8 542.7,193.0 548.0,191.0 C553.3,189.0 560.5,186.2 565.0,186.0 C569.5,185.8 573.3,189.3 575.0,190.0" fill="none" stroke="#a4a4a4" stroke-width="0.55"/><path d="M548.0,160.0 C550.0,158.7 556.0,154.0 560.0,152.0 C564.0,150.0 570.0,148.7 572.0,148.0" fill="none" stroke="#a4a4a4" stroke-width="0.55"/><path d="M576.0,246.0 C580.0,245.0 591.8,241.7 600.0,240.0 C608.2,238.3 616.7,238.0 625.0,236.0 C633.3,234.0 645.8,229.3 650.0,228.0" fill="none" stroke="#a4a4a4" stroke-width="0.55"/><path d="M628.0,200.0 C630.8,199.3 639.7,196.0 645.0,196.0 C650.3,196.0 655.5,197.7 660.0,200.0 C664.5,202.3 670.0,208.3 672.0,210.0" fill="none" stroke="#a4a4a4" stroke-width="0.55"/><path d="M556.0,220.0 C558.0,220.7 564.0,223.7 568.0,224.0 C572.0,224.3 578.0,222.3 580.0,222.0" fill="none" stroke="#a4a4a4" stroke-width="0.55"/><path d="M560.0,176.0 C561.0,174.7 563.3,168.7 566.0,168.0 C568.7,167.3 573.7,169.3 576.0,172.0 C578.3,174.7 579.3,182.0 580.0,184.0" fill="none" stroke="#a4a4a4" stroke-width="0.55"/><circle cx="466.5" cy="109.7" r="2.15" fill="#0000ff" stroke="#000" stroke-width="0.6"/><circle cx="469.4" cy="111.4" r="2.15" fill="#0000ff" stroke="#000" stroke-width="0.6"/><circle cx="452.6" cy="106.7" r="2.15" fill="#0000ff" stroke="#000" stroke-width="0.6"/><circle cx="475.8" cy="124.2" r="2.15" fill="#0000ff" stroke="#000" stroke-width="0.6"/><circle cx="447.9" cy="93.8" r="2.15" fill="#0000ff" stroke="#000" stroke-width="0.6"/><circle cx="477.0" cy="113.2" r="2.15" fill="#0000ff" stroke="#000" stroke-width="0.6"/><circle cx="451.2" cy="75.9" r="2.15" fill="#0000ff" stroke="#000" stroke-width="0.6"/><circle cx="452.9" cy="90.0" r="2.15" fill="#0000ff" stroke="#000" stroke-width="0.6"/><circle cx="444.6" cy="103.8" r="2.15" fill="#0000ff" stroke="#000" stroke-width="0.6"/><circle cx="465.9" cy="127.2" r="2.15" fill="#0000ff" stroke="#000" stroke-width="0.6"/><circle cx="470.0" cy="114.7" r="2.15" fill="#0000ff" stroke="#000" stroke-width="0.6"/><circle cx="486.7" cy="118.9" r="2.15" fill="#0000ff" stroke="#000" stroke-width="0.6"/><circle cx="459.4" cy="89.2" r="2.15" fill="#0000ff" stroke="#000" stroke-width="0.6"/><circle cx="458.0" cy="79.4" r="2.15" fill="#0000ff" stroke="#000" stroke-width="0.6"/><circle cx="446.8" cy="114.0" r="2.15" fill="#0000ff" stroke="#000" stroke-width="0.6"/><circle cx="449.1" cy="90.3" r="2.15" fill="#0000ff" stroke="#000" stroke-width="0.6"/><circle cx="448.3" cy="78.7" r="2.15" fill="#0000ff" stroke="#000" stroke-width="0.6"/><circle cx="472.1" cy="102.7" r="2.15" fill="#0000ff" stroke="#000" stroke-width="0.6"/><circle cx="452.9" cy="120.4" r="2.15" fill="#0000ff" stroke="#000" stroke-width="0.6"/><circle cx="449.8" cy="114.9" r="2.15" fill="#0000ff" stroke="#000" stroke-width="0.6"/><circle cx="449.1" cy="101.1" r="2.15" fill="#0000ff" stroke="#000" stroke-width="0.6"/><circle cx="454.0" cy="99.4" r="2.15" fill="#0000ff" stroke="#000" stroke-width="0.6"/><circle cx="487.4" cy="114.8" r="2.15" fill="#0000ff" stroke="#000" stroke-width="0.6"/><circle cx="447.7" cy="111.1" r="2.15" fill="#0000ff" stroke="#000" stroke-width="0.6"/><circle cx="455.6" cy="112.3" r="2.15" fill="#0000ff" stroke="#000" stroke-width="0.6"/><circle cx="462.3" cy="103.1" r="2.15" fill="#0000ff" stroke="#000" stroke-width="0.6"/><circle cx="472.9" cy="128.7" r="2.15" fill="#0000ff" stroke="#000" stroke-width="0.6"/><circle cx="452.5" cy="84.6" r="2.15" fill="#0000ff" stroke="#000" stroke-width="0.6"/><circle cx="456.0" cy="86.8" r="2.15" fill="#0000ff" stroke="#000" stroke-width="0.6"/><circle cx="481.5" cy="133.3" r="2.15" fill="#0000ff" stroke="#000" stroke-width="0.6"/><circle cx="488.9" cy="112.4" r="2.15" fill="#0000ff" stroke="#000" stroke-width="0.6"/><circle cx="455.4" cy="118.7" r="2.15" fill="#0000ff" stroke="#000" stroke-width="0.6"/><circle cx="446.6" cy="89.2" r="2.15" fill="#0000ff" stroke="#000" stroke-width="0.6"/><circle cx="443.9" cy="91.7" r="2.15" fill="#0000ff" stroke="#000" stroke-width="0.6"/><circle cx="494.0" cy="115.7" r="2.15" fill="#0000ff" stroke="#000" stroke-width="0.6"/><circle cx="478.9" cy="111.2" r="2.15" fill="#0000ff" stroke="#000" stroke-width="0.6"/><circle cx="479.5" cy="134.7" r="2.15" fill="#0000ff" stroke="#000" stroke-width="0.6"/><circle cx="468.1" cy="120.3" r="2.15" fill="#0000ff" stroke="#000" stroke-width="0.6"/><circle cx="481.3" cy="130.8" r="2.15" fill="#0000ff" stroke="#000" stroke-width="0.6"/><circle cx="481.3" cy="118.6" r="2.15" fill="#0000ff" stroke="#000" stroke-width="0.6"/><circle cx="484.2" cy="131.7" r="2.15" fill="#0000ff" stroke="#000" stroke-width="0.6"/><circle cx="461.3" cy="117.5" r="2.15" fill="#0000ff" stroke="#000" stroke-width="0.6"/><circle cx="464.7" cy="124.0" r="2.15" fill="#0000ff" stroke="#000" stroke-width="0.6"/><circle cx="473.3" cy="112.7" r="2.15" fill="#0000ff" stroke="#000" stroke-width="0.6"/><circle cx="475.0" cy="132.1" r="2.15" fill="#0000ff" stroke="#000" stroke-width="0.6"/><circle cx="458.7" cy="117.0" r="2.15" fill="#0000ff" stroke="#000" stroke-width="0.6"/><circle cx="490.1" cy="115.9" r="2.15" fill="#0000ff" stroke="#000" stroke-width="0.6"/><circle cx="466.0" cy="130.3" r="2.15" fill="#0000ff" stroke="#000" stroke-width="0.6"/><circle cx="450.1" cy="105.8" r="2.15" fill="#0000ff" stroke="#000" stroke-width="0.6"/><circle cx="475.5" cy="105.6" r="2.15" fill="#0000ff" stroke="#000" stroke-width="0.6"/><circle cx="459.4" cy="127.0" r="2.15" fill="#0000ff" stroke="#000" stroke-width="0.6"/><circle cx="459.1" cy="124.1" r="2.15" fill="#0000ff" stroke="#000" stroke-width="0.6"/><circle cx="444.0" cy="83.4" r="2.15" fill="#0000ff" stroke="#000" stroke-width="0.6"/><circle cx="475.8" cy="115.6" r="2.15" fill="#0000ff" stroke="#000" stroke-width="0.6"/><circle cx="457.2" cy="96.4" r="2.15" fill="#0000ff" stroke="#000" stroke-width="0.6"/><circle cx="475.0" cy="121.9" r="2.15" fill="#0000ff" stroke="#000" stroke-width="0.6"/><circle cx="491.5" cy="119.8" r="2.15" fill="#0000ff" stroke="#000" stroke-width="0.6"/><circle cx="462.6" cy="110.3" r="2.15" fill="#0000ff" stroke="#000" stroke-width="0.6"/><circle cx="480.5" cy="125.7" r="2.15" fill="#0000ff" stroke="#000" stroke-width="0.6"/><circle cx="476.4" cy="119.5" r="2.15" fill="#0000ff" stroke="#000" stroke-width="0.6"/><circle cx="470.9" cy="124.0" r="2.15" fill="#0000ff" stroke="#000" stroke-width="0.6"/><circle cx="458.1" cy="120.2" r="2.15" fill="#0000ff" stroke="#000" stroke-width="0.6"/><circle cx="459.2" cy="98.6" r="2.15" fill="#0000ff" stroke="#000" stroke-width="0.6"/><circle cx="487.0" cy="130.8" r="2.15" fill="#0000ff" stroke="#000" stroke-width="0.6"/><circle cx="470.9" cy="106.2" r="2.15" fill="#0000ff" stroke="#000" stroke-width="0.6"/><circle cx="457.0" cy="104.3" r="2.15" fill="#0000ff" stroke="#000" stroke-width="0.6"/><circle cx="453.0" cy="113.3" r="2.15" fill="#0000ff" stroke="#000" stroke-width="0.6"/><circle cx="461.5" cy="113.4" r="2.15" fill="#0000ff" stroke="#000" stroke-width="0.6"/><circle cx="462.5" cy="100.6" r="2.15" fill="#0000ff" stroke="#000" stroke-width="0.6"/><circle cx="463.9" cy="117.5" r="2.15" fill="#0000ff" stroke="#000" stroke-width="0.6"/><circle cx="443.9" cy="87.5" r="2.15" fill="#0000ff" stroke="#000" stroke-width="0.6"/><circle cx="478.5" cy="131.5" r="2.15" fill="#0000ff" stroke="#000" stroke-width="0.6"/><circle cx="469.1" cy="117.5" r="2.15" fill="#0000ff" stroke="#000" stroke-width="0.6"/><circle cx="452.8" cy="79.4" r="2.15" fill="#0000ff" stroke="#000" stroke-width="0.6"/><circle cx="460.0" cy="104.0" r="2.15" fill="#0000ff" stroke="#000" stroke-width="0.6"/><circle cx="469.8" cy="101.7" r="2.15" fill="#0000ff" stroke="#000" stroke-width="0.6"/><circle cx="452.4" cy="103.1" r="2.15" fill="#0000ff" stroke="#000" stroke-width="0.6"/><circle cx="479.6" cy="128.4" r="2.15" fill="#0000ff" stroke="#000" stroke-width="0.6"/><circle cx="481.7" cy="123.2" r="2.15" fill="#0000ff" stroke="#000" stroke-width="0.6"/><circle cx="479.1" cy="122.6" r="2.15" fill="#0000ff" stroke="#000" stroke-width="0.6"/><circle cx="443.6" cy="97.0" r="2.15" fill="#0000ff" stroke="#000" stroke-width="0.6"/><circle cx="456.3" cy="99.9" r="2.15" fill="#0000ff" stroke="#000" stroke-width="0.6"/><circle cx="462.0" cy="92.7" r="2.15" fill="#0000ff" stroke="#000" stroke-width="0.6"/><circle cx="455.7" cy="77.7" r="2.15" fill="#0000ff" stroke="#000" stroke-width="0.6"/><circle cx="465.3" cy="104.6" r="2.15" fill="#0000ff" stroke="#000" stroke-width="0.6"/><circle cx="470.2" cy="133.1" r="2.15" fill="#0000ff" stroke="#000" stroke-width="0.6"/><circle cx="483.8" cy="113.7" r="2.15" fill="#0000ff" stroke="#000" stroke-width="0.6"/><circle cx="454.0" cy="96.3" r="2.15" fill="#0000ff" stroke="#000" stroke-width="0.6"/><circle cx="446.9" cy="82.4" r="2.15" fill="#0000ff" stroke="#000" stroke-width="0.6"/><circle cx="477.0" cy="136.3" r="2.15" fill="#0000ff" stroke="#000" stroke-width="0.6"/><circle cx="459.9" cy="109.0" r="2.15" fill="#0000ff" stroke="#000" stroke-width="0.6"/><circle cx="465.2" cy="97.9" r="2.15" fill="#0000ff" stroke="#000" stroke-width="0.6"/><circle cx="454.1" cy="116.1" r="2.15" fill="#0000ff" stroke="#000" stroke-width="0.6"/><circle cx="457.7" cy="83.9" r="2.15" fill="#0000ff" stroke="#000" stroke-width="0.6"/><circle cx="461.6" cy="120.0" r="2.15" fill="#0000ff" stroke="#000" stroke-width="0.6"/><circle cx="462.0" cy="97.5" r="2.15" fill="#0000ff" stroke="#000" stroke-width="0.6"/><circle cx="453.1" cy="110.0" r="2.15" fill="#0000ff" stroke="#000" stroke-width="0.6"/><circle cx="444.2" cy="107.0" r="2.15" fill="#0000ff" stroke="#000" stroke-width="0.6"/><circle cx="454.5" cy="122.5" r="2.15" fill="#0000ff" stroke="#000" stroke-width="0.6"/><circle cx="468.7" cy="108.3" r="2.15" fill="#0000ff" stroke="#000" stroke-width="0.6"/><circle cx="452.6" cy="92.4" r="2.15" fill="#0000ff" stroke="#000" stroke-width="0.6"/><circle cx="462.3" cy="124.4" r="2.15" fill="#0000ff" stroke="#000" stroke-width="0.6"/><circle cx="456.9" cy="108.1" r="2.15" fill="#0000ff" stroke="#000" stroke-width="0.6"/><circle cx="468.0" cy="104.1" r="2.15" fill="#0000ff" stroke="#000" stroke-width="0.6"/><circle cx="459.2" cy="94.3" r="2.15" fill="#0000ff" stroke="#000" stroke-width="0.6"/><circle cx="450.3" cy="80.9" r="2.15" fill="#0000ff" stroke="#000" stroke-width="0.6"/><circle cx="486.5" cy="111.7" r="2.15" fill="#0000ff" stroke="#000" stroke-width="0.6"/><circle cx="448.5" cy="98.4" r="2.15" fill="#0000ff" stroke="#000" stroke-width="0.6"/><circle cx="461.3" cy="106.0" r="2.15" fill="#0000ff" stroke="#000" stroke-width="0.6"/><circle cx="450.4" cy="119.2" r="2.15" fill="#0000ff" stroke="#000" stroke-width="0.6"/><circle cx="473.0" cy="118.2" r="2.15" fill="#0000ff" stroke="#000" stroke-width="0.6"/><circle cx="471.3" cy="109.8" r="2.15" fill="#0000ff" stroke="#000" stroke-width="0.6"/><circle cx="467.4" cy="100.5" r="2.15" fill="#0000ff" stroke="#000" stroke-width="0.6"/><circle cx="472.4" cy="131.1" r="2.15" fill="#0000ff" stroke="#000" stroke-width="0.6"/><circle cx="449.4" cy="108.3" r="2.15" fill="#0000ff" stroke="#000" stroke-width="0.6"/><circle cx="455.7" cy="93.6" r="2.15" fill="#0000ff" stroke="#000" stroke-width="0.6"/><circle cx="457.4" cy="114.7" r="2.15" fill="#0000ff" stroke="#000" stroke-width="0.6"/><circle cx="469.3" cy="127.4" r="2.15" fill="#0000ff" stroke="#000" stroke-width="0.6"/><circle cx="478.6" cy="107.3" r="2.15" fill="#0000ff" stroke="#000" stroke-width="0.6"/><circle cx="456.7" cy="124.5" r="2.15" fill="#0000ff" stroke="#000" stroke-width="0.6"/><circle cx="450.6" cy="94.3" r="2.15" fill="#0000ff" stroke="#000" stroke-width="0.6"/><circle cx="445.2" cy="94.5" r="2.15" fill="#0000ff" stroke="#000" stroke-width="0.6"/><circle cx="486.2" cy="123.8" r="2.15" fill="#0000ff" stroke="#000" stroke-width="0.6"/><circle cx="446.2" cy="100.5" r="2.15" fill="#0000ff" stroke="#000" stroke-width="0.6"/><circle cx="461.9" cy="88.4" r="2.15" fill="#0000ff" stroke="#000" stroke-width="0.6"/><circle cx="467.0" cy="132.8" r="2.15" fill="#0000ff" stroke="#000" stroke-width="0.6"/><circle cx="494.0" cy="112.9" r="2.15" fill="#0000ff" stroke="#000" stroke-width="0.6"/><circle cx="463.4" cy="127.3" r="2.15" fill="#0000ff" stroke="#000" stroke-width="0.6"/><circle cx="451.5" cy="87.6" r="2.15" fill="#0000ff" stroke="#000" stroke-width="0.6"/><circle cx="459.2" cy="101.3" r="2.15" fill="#0000ff" stroke="#000" stroke-width="0.6"/><circle cx="480.7" cy="116.3" r="2.15" fill="#0000ff" stroke="#000" stroke-width="0.6"/><circle cx="455.5" cy="80.8" r="2.15" fill="#0000ff" stroke="#000" stroke-width="0.6"/><circle cx="450.8" cy="111.1" r="2.15" fill="#0000ff" stroke="#000" stroke-width="0.6"/><circle cx="455.3" cy="90.5" r="2.15" fill="#0000ff" stroke="#000" stroke-width="0.6"/><circle cx="459.9" cy="86.0" r="2.15" fill="#0000ff" stroke="#000" stroke-width="0.6"/><circle cx="479.8" cy="113.6" r="2.15" fill="#0000ff" stroke="#000" stroke-width="0.6"/><circle cx="484.6" cy="127.0" r="2.15" fill="#0000ff" stroke="#000" stroke-width="0.6"/><circle cx="445.7" cy="79.0" r="2.15" fill="#0000ff" stroke="#000" stroke-width="0.6"/><circle cx="447.1" cy="86.3" r="2.15" fill="#0000ff" stroke="#000" stroke-width="0.6"/><circle cx="446.0" cy="109.1" r="2.15" fill="#0000ff" stroke="#000" stroke-width="0.6"/><circle cx="562.2" cy="110.4" r="2.15" fill="#0000ff" stroke="#000" stroke-width="0.6"/><circle cx="544.7" cy="131.8" r="2.15" fill="#0000ff" stroke="#000" stroke-width="0.6"/><circle cx="552.4" cy="124.7" r="2.15" fill="#0000ff" stroke="#000" stroke-width="0.6"/><circle cx="565.3" cy="80.0" r="2.15" fill="#0000ff" stroke="#000" stroke-width="0.6"/><circle cx="548.5" cy="119.2" r="2.15" fill="#0000ff" stroke="#000" stroke-width="0.6"/><circle cx="546.3" cy="103.0" r="2.15" fill="#0000ff" stroke="#000" stroke-width="0.6"/><circle cx="556.3" cy="123.1" r="2.15" fill="#0000ff" stroke="#000" stroke-width="0.6"/><circle cx="568.4" cy="118.0" r="2.15" fill="#0000ff" stroke="#000" stroke-width="0.6"/><circle cx="550.4" cy="122.6" r="2.15" fill="#0000ff" stroke="#000" stroke-width="0.6"/><circle cx="570.1" cy="120.2" r="2.15" fill="#0000ff" stroke="#000" stroke-width="0.6"/><circle cx="575.7" cy="95.4" r="2.15" fill="#0000ff" stroke="#000" stroke-width="0.6"/><circle cx="564.4" cy="85.0" r="2.15" fill="#0000ff" stroke="#000" stroke-width="0.6"/><circle cx="573.8" cy="69.6" r="2.15" fill="#0000ff" stroke="#000" stroke-width="0.6"/><circle cx="558.5" cy="83.5" r="2.15" fill="#0000ff" stroke="#000" stroke-width="0.6"/><circle cx="549.9" cy="93.1" r="2.15" fill="#0000ff" stroke="#000" stroke-width="0.6"/><circle cx="562.2" cy="123.1" r="2.15" fill="#0000ff" stroke="#000" stroke-width="0.6"/><circle cx="548.8" cy="111.4" r="2.15" fill="#0000ff" stroke="#000" stroke-width="0.6"/><circle cx="573.6" cy="89.9" r="2.15" fill="#0000ff" stroke="#000" stroke-width="0.6"/><circle cx="566.1" cy="82.4" r="2.15" fill="#0000ff" stroke="#000" stroke-width="0.6"/><circle cx="566.2" cy="105.1" r="2.15" fill="#0000ff" stroke="#000" stroke-width="0.6"/><circle cx="548.1" cy="97.3" r="2.15" fill="#0000ff" stroke="#000" stroke-width="0.6"/><circle cx="556.7" cy="132.8" r="2.15" fill="#0000ff" stroke="#000" stroke-width="0.6"/><circle cx="541.4" cy="127.9" r="2.15" fill="#0000ff" stroke="#000" stroke-width="0.6"/><circle cx="551.8" cy="133.5" r="2.15" fill="#0000ff" stroke="#000" stroke-width="0.6"/><circle cx="544.6" cy="114.1" r="2.15" fill="#0000ff" stroke="#000" stroke-width="0.6"/><circle cx="561.2" cy="93.7" r="2.15" fill="#0000ff" stroke="#000" stroke-width="0.6"/><circle cx="561.6" cy="82.4" r="2.15" fill="#0000ff" stroke="#000" stroke-width="0.6"/><circle cx="560.3" cy="128.4" r="2.15" fill="#0000ff" stroke="#000" stroke-width="0.6"/><circle cx="571.4" cy="110.7" r="2.15" fill="#0000ff" stroke="#000" stroke-width="0.6"/><circle cx="555.2" cy="106.6" r="2.15" fill="#0000ff" stroke="#000" stroke-width="0.6"/><circle cx="537.3" cy="124.9" r="2.15" fill="#0000ff" stroke="#000" stroke-width="0.6"/><circle cx="563.7" cy="98.8" r="2.15" fill="#0000ff" stroke="#000" stroke-width="0.6"/><circle cx="562.6" cy="96.5" r="2.15" fill="#0000ff" stroke="#000" stroke-width="0.6"/><circle cx="559.6" cy="106.9" r="2.15" fill="#0000ff" stroke="#000" stroke-width="0.6"/><circle cx="560.9" cy="98.4" r="2.15" fill="#0000ff" stroke="#000" stroke-width="0.6"/><circle cx="574.9" cy="78.3" r="2.15" fill="#0000ff" stroke="#000" stroke-width="0.6"/><circle cx="553.6" cy="135.5" r="2.15" fill="#0000ff" stroke="#000" stroke-width="0.6"/><circle cx="565.9" cy="89.3" r="2.15" fill="#0000ff" stroke="#000" stroke-width="0.6"/><circle cx="550.5" cy="127.0" r="2.15" fill="#0000ff" stroke="#000" stroke-width="0.6"/><circle cx="568.7" cy="102.8" r="2.15" fill="#0000ff" stroke="#000" stroke-width="0.6"/><circle cx="572.0" cy="116.4" r="2.15" fill="#0000ff" stroke="#000" stroke-width="0.6"/><circle cx="543.5" cy="122.9" r="2.15" fill="#0000ff" stroke="#000" stroke-width="0.6"/><circle cx="552.9" cy="104.5" r="2.15" fill="#0000ff" stroke="#000" stroke-width="0.6"/><circle cx="571.8" cy="81.3" r="2.15" fill="#0000ff" stroke="#000" stroke-width="0.6"/><circle cx="535.4" cy="105.7" r="2.15" fill="#0000ff" stroke="#000" stroke-width="0.6"/><circle cx="557.3" cy="129.6" r="2.15" fill="#0000ff" stroke="#000" stroke-width="0.6"/><circle cx="568.7" cy="78.3" r="2.15" fill="#0000ff" stroke="#000" stroke-width="0.6"/><circle cx="541.5" cy="110.8" r="2.15" fill="#0000ff" stroke="#000" stroke-width="0.6"/><circle cx="541.1" cy="113.5" r="2.15" fill="#0000ff" stroke="#000" stroke-width="0.6"/><circle cx="561.0" cy="86.9" r="2.15" fill="#0000ff" stroke="#000" stroke-width="0.6"/><circle cx="559.7" cy="115.3" r="2.15" fill="#0000ff" stroke="#000" stroke-width="0.6"/><circle cx="575.3" cy="109.5" r="2.15" fill="#0000ff" stroke="#000" stroke-width="0.6"/><circle cx="565.9" cy="92.5" r="2.15" fill="#0000ff" stroke="#000" stroke-width="0.6"/><circle cx="538.7" cy="110.9" r="2.15" fill="#0000ff" stroke="#000" stroke-width="0.6"/><circle cx="550.8" cy="99.1" r="2.15" fill="#0000ff" stroke="#000" stroke-width="0.6"/><circle cx="547.9" cy="115.8" r="2.15" fill="#0000ff" stroke="#000" stroke-width="0.6"/><circle cx="542.8" cy="107.4" r="2.15" fill="#0000ff" stroke="#000" stroke-width="0.6"/><circle cx="545.1" cy="127.3" r="2.15" fill="#0000ff" stroke="#000" stroke-width="0.6"/><circle cx="566.2" cy="108.9" r="2.15" fill="#0000ff" stroke="#000" stroke-width="0.6"/><circle cx="573.2" cy="85.1" r="2.15" fill="#0000ff" stroke="#000" stroke-width="0.6"/><circle cx="551.3" cy="91.2" r="2.15" fill="#0000ff" stroke="#000" stroke-width="0.6"/><circle cx="536.6" cy="129.0" r="2.15" fill="#0000ff" stroke="#000" stroke-width="0.6"/><circle cx="562.8" cy="91.4" r="2.15" fill="#0000ff" stroke="#000" stroke-width="0.6"/><circle cx="533.1" cy="111.0" r="2.15" fill="#0000ff" stroke="#000" stroke-width="0.6"/><circle cx="553.6" cy="92.6" r="2.15" fill="#0000ff" stroke="#000" stroke-width="0.6"/><circle cx="553.4" cy="89.5" r="2.15" fill="#0000ff" stroke="#000" stroke-width="0.6"/><circle cx="566.1" cy="73.7" r="2.15" fill="#0000ff" stroke="#000" stroke-width="0.6"/><circle cx="560.7" cy="118.5" r="2.15" fill="#0000ff" stroke="#000" stroke-width="0.6"/><circle cx="565.6" cy="120.8" r="2.15" fill="#0000ff" stroke="#000" stroke-width="0.6"/><circle cx="556.7" cy="104.3" r="2.15" fill="#0000ff" stroke="#000" stroke-width="0.6"/><circle cx="537.1" cy="121.7" r="2.15" fill="#0000ff" stroke="#000" stroke-width="0.6"/><circle cx="537.7" cy="106.6" r="2.15" fill="#0000ff" stroke="#000" stroke-width="0.6"/><circle cx="555.6" cy="88.0" r="2.15" fill="#0000ff" stroke="#000" stroke-width="0.6"/><circle cx="567.8" cy="84.8" r="2.15" fill="#0000ff" stroke="#000" stroke-width="0.6"/><circle cx="557.7" cy="99.2" r="2.15" fill="#0000ff" stroke="#000" stroke-width="0.6"/><circle cx="571.1" cy="75.1" r="2.15" fill="#0000ff" stroke="#000" stroke-width="0.6"/><circle cx="571.1" cy="78.5" r="2.15" fill="#0000ff" stroke="#000" stroke-width="0.6"/><circle cx="576.6" cy="103.7" r="2.15" fill="#0000ff" stroke="#000" stroke-width="0.6"/><circle cx="550.7" cy="109.6" r="2.15" fill="#0000ff" stroke="#000" stroke-width="0.6"/><circle cx="565.8" cy="116.5" r="2.15" fill="#0000ff" stroke="#000" stroke-width="0.6"/><circle cx="539.2" cy="104.1" r="2.15" fill="#0000ff" stroke="#000" stroke-width="0.6"/><circle cx="561.6" cy="125.6" r="2.15" fill="#0000ff" stroke="#000" stroke-width="0.6"/><circle cx="575.5" cy="106.6" r="2.15" fill="#0000ff" stroke="#000" stroke-width="0.6"/><circle cx="534.3" cy="124.8" r="2.15" fill="#0000ff" stroke="#000" stroke-width="0.6"/><circle cx="557.2" cy="95.2" r="2.15" fill="#0000ff" stroke="#000" stroke-width="0.6"/><circle cx="566.5" cy="101.1" r="2.15" fill="#0000ff" stroke="#000" stroke-width="0.6"/><circle cx="559.3" cy="133.3" r="2.15" fill="#0000ff" stroke="#000" stroke-width="0.6"/><circle cx="555.7" cy="119.3" r="2.15" fill="#0000ff" stroke="#000" stroke-width="0.6"/><circle cx="568.6" cy="96.9" r="2.15" fill="#0000ff" stroke="#000" stroke-width="0.6"/><circle cx="571.6" cy="95.4" r="2.15" fill="#0000ff" stroke="#000" stroke-width="0.6"/><circle cx="570.3" cy="90.3" r="2.15" fill="#0000ff" stroke="#000" stroke-width="0.6"/><circle cx="546.6" cy="123.7" r="2.15" fill="#0000ff" stroke="#000" stroke-width="0.6"/><circle cx="568.3" cy="111.7" r="2.15" fill="#0000ff" stroke="#000" stroke-width="0.6"/><circle cx="534.6" cy="119.9" r="2.15" fill="#0000ff" stroke="#000" stroke-width="0.6"/><circle cx="565.9" cy="96.4" r="2.15" fill="#0000ff" stroke="#000" stroke-width="0.6"/><circle cx="574.2" cy="73.1" r="2.15" fill="#0000ff" stroke="#000" stroke-width="0.6"/><circle cx="562.6" cy="105.3" r="2.15" fill="#0000ff" stroke="#000" stroke-width="0.6"/><circle cx="563.0" cy="131.1" r="2.15" fill="#0000ff" stroke="#000" stroke-width="0.6"/><circle cx="554.7" cy="114.9" r="2.15" fill="#0000ff" stroke="#000" stroke-width="0.6"/><circle cx="536.8" cy="118.5" r="2.15" fill="#0000ff" stroke="#000" stroke-width="0.6"/><circle cx="559.2" cy="103.4" r="2.15" fill="#0000ff" stroke="#000" stroke-width="0.6"/><circle cx="549.9" cy="107.1" r="2.15" fill="#0000ff" stroke="#000" stroke-width="0.6"/><circle cx="577.1" cy="90.3" r="2.15" fill="#0000ff" stroke="#000" stroke-width="0.6"/><circle cx="544.0" cy="117.7" r="2.15" fill="#0000ff" stroke="#000" stroke-width="0.6"/><circle cx="573.8" cy="99.0" r="2.15" fill="#0000ff" stroke="#000" stroke-width="0.6"/><circle cx="533.6" cy="115.5" r="2.15" fill="#0000ff" stroke="#000" stroke-width="0.6"/><circle cx="556.7" cy="85.2" r="2.15" fill="#0000ff" stroke="#000" stroke-width="0.6"/><circle cx="558.0" cy="91.7" r="2.15" fill="#0000ff" stroke="#000" stroke-width="0.6"/><circle cx="570.2" cy="114.8" r="2.15" fill="#0000ff" stroke="#000" stroke-width="0.6"/><circle cx="566.8" cy="122.9" r="2.15" fill="#0000ff" stroke="#000" stroke-width="0.6"/><circle cx="543.7" cy="100.6" r="2.15" fill="#0000ff" stroke="#000" stroke-width="0.6"/><circle cx="565.4" cy="113.8" r="2.15" fill="#0000ff" stroke="#000" stroke-width="0.6"/><circle cx="547.7" cy="131.3" r="2.15" fill="#0000ff" stroke="#000" stroke-width="0.6"/><circle cx="538.5" cy="116.6" r="2.15" fill="#0000ff" stroke="#000" stroke-width="0.6"/><circle cx="575.5" cy="81.1" r="2.15" fill="#0000ff" stroke="#000" stroke-width="0.6"/><circle cx="538.2" cy="114.1" r="2.15" fill="#0000ff" stroke="#000" stroke-width="0.6"/><circle cx="574.5" cy="102.3" r="2.15" fill="#0000ff" stroke="#000" stroke-width="0.6"/><circle cx="558.1" cy="88.0" r="2.15" fill="#0000ff" stroke="#000" stroke-width="0.6"/><circle cx="553.1" cy="109.0" r="2.15" fill="#0000ff" stroke="#000" stroke-width="0.6"/><circle cx="570.9" cy="99.6" r="2.15" fill="#0000ff" stroke="#000" stroke-width="0.6"/><circle cx="540.8" cy="132.2" r="2.15" fill="#0000ff" stroke="#000" stroke-width="0.6"/><circle cx="555.0" cy="112.4" r="2.15" fill="#0000ff" stroke="#000" stroke-width="0.6"/><circle cx="572.7" cy="107.5" r="2.15" fill="#0000ff" stroke="#000" stroke-width="0.6"/><circle cx="575.6" cy="87.3" r="2.15" fill="#0000ff" stroke="#000" stroke-width="0.6"/><circle cx="554.9" cy="130.7" r="2.15" fill="#0000ff" stroke="#000" stroke-width="0.6"/><circle cx="543.7" cy="129.4" r="2.15" fill="#0000ff" stroke="#000" stroke-width="0.6"/><circle cx="555.2" cy="97.0" r="2.15" fill="#0000ff" stroke="#000" stroke-width="0.6"/><circle cx="554.5" cy="100.8" r="2.15" fill="#0000ff" stroke="#000" stroke-width="0.6"/><circle cx="535.0" cy="113.4" r="2.15" fill="#0000ff" stroke="#000" stroke-width="0.6"/><circle cx="561.4" cy="101.5" r="2.15" fill="#0000ff" stroke="#000" stroke-width="0.6"/><circle cx="562.1" cy="120.7" r="2.15" fill="#0000ff" stroke="#000" stroke-width="0.6"/><circle cx="563.9" cy="103.1" r="2.15" fill="#0000ff" stroke="#000" stroke-width="0.6"/><circle cx="551.1" cy="95.7" r="2.15" fill="#0000ff" stroke="#000" stroke-width="0.6"/><circle cx="551.9" cy="114.6" r="2.15" fill="#0000ff" stroke="#000" stroke-width="0.6"/><circle cx="546.5" cy="134.9" r="2.15" fill="#0000ff" stroke="#000" stroke-width="0.6"/><circle cx="466.7" cy="78.4" r="2.15" fill="#ff0000" stroke="#000" stroke-width="0.6"/><circle cx="455.8" cy="75.1" r="2.15" fill="#ff0000" stroke="#000" stroke-width="0.6"/><circle cx="467.9" cy="87.8" r="2.15" fill="#ff0000" stroke="#000" stroke-width="0.6"/><circle cx="469.8" cy="85.1" r="2.15" fill="#ff0000" stroke="#000" stroke-width="0.6"/><circle cx="472.7" cy="92.3" r="2.15" fill="#ff0000" stroke="#000" stroke-width="0.6"/><circle cx="476.5" cy="95.2" r="2.15" fill="#ff0000" stroke="#000" stroke-width="0.6"/><circle cx="461.7" cy="70.2" r="2.15" fill="#ff0000" stroke="#000" stroke-width="0.6"/><circle cx="475.8" cy="89.6" r="2.15" fill="#ff0000" stroke="#000" stroke-width="0.6"/><circle cx="470.4" cy="90.0" r="2.15" fill="#ff0000" stroke="#000" stroke-width="0.6"/><circle cx="454.2" cy="70.7" r="2.15" fill="#ff0000" stroke="#000" stroke-width="0.6"/><circle cx="456.8" cy="72.3" r="2.15" fill="#ff0000" stroke="#000" stroke-width="0.6"/><circle cx="468.4" cy="93.3" r="2.15" fill="#ff0000" stroke="#000" stroke-width="0.6"/><circle cx="457.8" cy="67.7" r="2.15" fill="#ff0000" stroke="#000" stroke-width="0.6"/><circle cx="463.9" cy="81.8" r="2.15" fill="#ff0000" stroke="#000" stroke-width="0.6"/><circle cx="468.2" cy="83.1" r="2.15" fill="#ff0000" stroke="#000" stroke-width="0.6"/><circle cx="465.4" cy="87.6" r="2.15" fill="#ff0000" stroke="#000" stroke-width="0.6"/><circle cx="472.8" cy="88.2" r="2.15" fill="#ff0000" stroke="#000" stroke-width="0.6"/><circle cx="474.8" cy="98.2" r="2.15" fill="#ff0000" stroke="#000" stroke-width="0.6"/><circle cx="472.5" cy="98.6" r="2.15" fill="#ff0000" stroke="#000" stroke-width="0.6"/><circle cx="461.5" cy="74.8" r="2.15" fill="#ff0000" stroke="#000" stroke-width="0.6"/><circle cx="481.0" cy="98.6" r="2.15" fill="#ff0000" stroke="#000" stroke-width="0.6"/><circle cx="458.8" cy="75.3" r="2.15" fill="#ff0000" stroke="#000" stroke-width="0.6"/><circle cx="458.7" cy="78.8" r="2.15" fill="#ff0000" stroke="#000" stroke-width="0.6"/><circle cx="461.4" cy="82.2" r="2.15" fill="#ff0000" stroke="#000" stroke-width="0.6"/><circle cx="463.1" cy="72.3" r="2.15" fill="#ff0000" stroke="#000" stroke-width="0.6"/><circle cx="475.2" cy="87.1" r="2.15" fill="#ff0000" stroke="#000" stroke-width="0.6"/><circle cx="476.1" cy="102.3" r="2.15" fill="#ff0000" stroke="#000" stroke-width="0.6"/><circle cx="479.3" cy="92.2" r="2.15" fill="#ff0000" stroke="#000" stroke-width="0.6"/><circle cx="479.2" cy="96.7" r="2.15" fill="#ff0000" stroke="#000" stroke-width="0.6"/><circle cx="473.4" cy="95.2" r="2.15" fill="#ff0000" stroke="#000" stroke-width="0.6"/><circle cx="459.8" cy="73.1" r="2.15" fill="#ff0000" stroke="#000" stroke-width="0.6"/><circle cx="464.1" cy="77.2" r="2.15" fill="#ff0000" stroke="#000" stroke-width="0.6"/><circle cx="470.7" cy="82.4" r="2.15" fill="#ff0000" stroke="#000" stroke-width="0.6"/><circle cx="465.6" cy="73.4" r="2.15" fill="#ff0000" stroke="#000" stroke-width="0.6"/><circle cx="467.5" cy="85.4" r="2.15" fill="#ff0000" stroke="#000" stroke-width="0.6"/><circle cx="465.1" cy="85.0" r="2.15" fill="#ff0000" stroke="#000" stroke-width="0.6"/><circle cx="458.6" cy="69.9" r="2.15" fill="#ff0000" stroke="#000" stroke-width="0.6"/><circle cx="478.6" cy="102.0" r="2.15" fill="#ff0000" stroke="#000" stroke-width="0.6"/><circle cx="454.1" cy="68.3" r="2.15" fill="#ff0000" stroke="#000" stroke-width="0.6"/><circle cx="466.7" cy="91.0" r="2.15" fill="#ff0000" stroke="#000" stroke-width="0.6"/><circle cx="488.7" cy="105.4" r="2.15" fill="#00f400" stroke="#000" stroke-width="0.6"/><circle cx="478.9" cy="100.2" r="2.15" fill="#00f400" stroke="#000" stroke-width="0.6"/><circle cx="488.8" cy="110.5" r="2.15" fill="#00f400" stroke="#000" stroke-width="0.6"/><circle cx="494.8" cy="110.0" r="2.15" fill="#00f400" stroke="#000" stroke-width="0.6"/><circle cx="483.2" cy="101.7" r="2.15" fill="#00f400" stroke="#000" stroke-width="0.6"/><circle cx="476.4" cy="100.7" r="2.15" fill="#00f400" stroke="#000" stroke-width="0.6"/><circle cx="472.7" cy="95.9" r="2.15" fill="#00f400" stroke="#000" stroke-width="0.6"/><circle cx="487.1" cy="108.3" r="2.15" fill="#00f400" stroke="#000" stroke-width="0.6"/><circle cx="493.0" cy="108.1" r="2.15" fill="#00f400" stroke="#000" stroke-width="0.6"/><circle cx="495.5" cy="112.4" r="2.15" fill="#00f400" stroke="#000" stroke-width="0.6"/><circle cx="491.8" cy="112.0" r="2.15" fill="#00f400" stroke="#000" stroke-width="0.6"/><circle cx="482.7" cy="108.6" r="2.15" fill="#00f400" stroke="#000" stroke-width="0.6"/><circle cx="480.3" cy="103.7" r="2.15" fill="#00f400" stroke="#000" stroke-width="0.6"/><circle cx="474.3" cy="97.5" r="2.15" fill="#00f400" stroke="#000" stroke-width="0.6"/><circle cx="476.1" cy="103.8" r="2.15" fill="#00f400" stroke="#000" stroke-width="0.6"/><circle cx="485.9" cy="105.3" r="2.15" fill="#00f400" stroke="#000" stroke-width="0.6"/><circle cx="477.1" cy="39.3" r="2.15" fill="#ff0000" stroke="#000" stroke-width="0.6"/><circle cx="472.3" cy="57.8" r="2.15" fill="#ff0000" stroke="#000" stroke-width="0.6"/><circle cx="485.0" cy="56.1" r="2.15" fill="#ff0000" stroke="#000" stroke-width="0.6"/><circle cx="487.0" cy="66.2" r="2.15" fill="#ff0000" stroke="#000" stroke-width="0.6"/><circle cx="487.8" cy="70.1" r="2.15" fill="#ff0000" stroke="#000" stroke-width="0.6"/><circle cx="484.1" cy="74.6" r="2.15" fill="#ff0000" stroke="#000" stroke-width="0.6"/><circle cx="491.7" cy="76.6" r="2.15" fill="#ff0000" stroke="#000" stroke-width="0.6"/><circle cx="466.0" cy="84.0" r="2.15" fill="#ff0000" stroke="#000" stroke-width="0.6"/><circle cx="531.9" cy="31.7" r="2.15" fill="#ff0000" stroke="#000" stroke-width="0.6"/><circle cx="543.1" cy="35.3" r="2.15" fill="#ff0000" stroke="#000" stroke-width="0.6"/><circle cx="538.3" cy="49.1" r="2.15" fill="#ff0000" stroke="#000" stroke-width="0.6"/><circle cx="534.7" cy="53.6" r="2.15" fill="#ff0000" stroke="#000" stroke-width="0.6"/><circle cx="548.7" cy="57.5" r="2.15" fill="#ff0000" stroke="#000" stroke-width="0.6"/><circle cx="547.3" cy="66.2" r="2.15" fill="#ff0000" stroke="#000" stroke-width="0.6"/><circle cx="553.0" cy="66.2" r="2.15" fill="#ff0000" stroke="#000" stroke-width="0.6"/><circle cx="539.5" cy="69.0" r="2.15" fill="#ff0000" stroke="#000" stroke-width="0.6"/><circle cx="540.3" cy="76.6" r="2.15" fill="#ff0000" stroke="#000" stroke-width="0.6"/><circle cx="557.2" cy="73.2" r="2.15" fill="#ff0000" stroke="#000" stroke-width="0.6"/><circle cx="565.6" cy="75.2" r="2.15" fill="#ff0000" stroke="#000" stroke-width="0.6"/><circle cx="564.7" cy="80.3" r="2.15" fill="#ff0000" stroke="#000" stroke-width="0.6"/><circle cx="550.1" cy="81.4" r="2.15" fill="#ff0000" stroke="#000" stroke-width="0.6"/><circle cx="553.0" cy="83.6" r="2.15" fill="#ff0000" stroke="#000" stroke-width="0.6"/><circle cx="560.0" cy="88.7" r="2.15" fill="#ff0000" stroke="#000" stroke-width="0.6"/><circle cx="550.7" cy="99.1" r="2.15" fill="#ff0000" stroke="#000" stroke-width="0.6"/><circle cx="562.0" cy="84.0" r="2.15" fill="#ff0000" stroke="#000" stroke-width="0.6"/><circle cx="546.0" cy="86.0" r="2.15" fill="#ff0000" stroke="#000" stroke-width="0.6"/><circle cx="482.2" cy="85.9" r="2.15" fill="#00f400" stroke="#000" stroke-width="0.6"/><circle cx="493.1" cy="101.9" r="2.15" fill="#00f400" stroke="#000" stroke-width="0.6"/><circle cx="514.5" cy="110.3" r="2.15" fill="#00f400" stroke="#000" stroke-width="0.6"/><circle cx="513.6" cy="112.3" r="2.15" fill="#00f400" stroke="#000" stroke-width="0.6"/><circle cx="527.7" cy="106.7" r="2.15" fill="#00f400" stroke="#000" stroke-width="0.6"/><circle cx="527.1" cy="111.1" r="2.15" fill="#00f400" stroke="#000" stroke-width="0.6"/><circle cx="544.0" cy="98.5" r="2.15" fill="#00f400" stroke="#000" stroke-width="0.6"/><circle cx="468.7" cy="101.9" r="2.15" fill="#00f400" stroke="#000" stroke-width="0.6"/><circle cx="420.5" cy="233.0" r="2.15" fill="#0000ff" stroke="#000" stroke-width="0.6"/><circle cx="394.0" cy="218.0" r="2.15" fill="#0000ff" stroke="#000" stroke-width="0.6"/><circle cx="432.9" cy="230.0" r="2.15" fill="#0000ff" stroke="#000" stroke-width="0.6"/><circle cx="425.3" cy="233.2" r="2.15" fill="#0000ff" stroke="#000" stroke-width="0.6"/><circle cx="401.7" cy="221.5" r="2.15" fill="#0000ff" stroke="#000" stroke-width="0.6"/><circle cx="412.7" cy="219.6" r="2.15" fill="#0000ff" stroke="#000" stroke-width="0.6"/><circle cx="422.5" cy="203.0" r="2.15" fill="#0000ff" stroke="#000" stroke-width="0.6"/><circle cx="401.1" cy="214.7" r="2.15" fill="#0000ff" stroke="#000" stroke-width="0.6"/><circle cx="416.3" cy="220.4" r="2.15" fill="#0000ff" stroke="#000" stroke-width="0.6"/><circle cx="427.5" cy="223.4" r="2.15" fill="#0000ff" stroke="#000" stroke-width="0.6"/><circle cx="415.4" cy="199.8" r="2.15" fill="#0000ff" stroke="#000" stroke-width="0.6"/><circle cx="449.2" cy="233.3" r="2.15" fill="#0000ff" stroke="#000" stroke-width="0.6"/><circle cx="432.9" cy="233.8" r="2.15" fill="#0000ff" stroke="#000" stroke-width="0.6"/><circle cx="399.9" cy="210.6" r="2.15" fill="#0000ff" stroke="#000" stroke-width="0.6"/><circle cx="414.2" cy="225.3" r="2.15" fill="#0000ff" stroke="#000" stroke-width="0.6"/><circle cx="439.7" cy="224.7" r="2.15" fill="#0000ff" stroke="#000" stroke-width="0.6"/><circle cx="418.0" cy="225.7" r="2.15" fill="#0000ff" stroke="#000" stroke-width="0.6"/><circle cx="406.1" cy="220.8" r="2.15" fill="#0000ff" stroke="#000" stroke-width="0.6"/><circle cx="399.3" cy="227.3" r="2.15" fill="#0000ff" stroke="#000" stroke-width="0.6"/><circle cx="395.5" cy="212.8" r="2.15" fill="#0000ff" stroke="#000" stroke-width="0.6"/><circle cx="413.1" cy="231.9" r="2.15" fill="#0000ff" stroke="#000" stroke-width="0.6"/><circle cx="396.4" cy="222.5" r="2.15" fill="#0000ff" stroke="#000" stroke-width="0.6"/><circle cx="405.3" cy="213.1" r="2.15" fill="#0000ff" stroke="#000" stroke-width="0.6"/><circle cx="414.2" cy="208.2" r="2.15" fill="#0000ff" stroke="#000" stroke-width="0.6"/><circle cx="436.2" cy="246.4" r="2.15" fill="#0000ff" stroke="#000" stroke-width="0.6"/><circle cx="437.5" cy="216.3" r="2.15" fill="#0000ff" stroke="#000" stroke-width="0.6"/><circle cx="441.0" cy="232.0" r="2.15" fill="#0000ff" stroke="#000" stroke-width="0.6"/><circle cx="406.5" cy="226.1" r="2.15" fill="#0000ff" stroke="#000" stroke-width="0.6"/><circle cx="422.9" cy="235.0" r="2.15" fill="#0000ff" stroke="#000" stroke-width="0.6"/><circle cx="409.7" cy="211.7" r="2.15" fill="#0000ff" stroke="#000" stroke-width="0.6"/><circle cx="417.4" cy="211.0" r="2.15" fill="#0000ff" stroke="#000" stroke-width="0.6"/><circle cx="436.9" cy="220.3" r="2.15" fill="#0000ff" stroke="#000" stroke-width="0.6"/><circle cx="438.5" cy="228.9" r="2.15" fill="#0000ff" stroke="#000" stroke-width="0.6"/><circle cx="435.5" cy="228.0" r="2.15" fill="#0000ff" stroke="#000" stroke-width="0.6"/><circle cx="445.1" cy="240.4" r="2.15" fill="#0000ff" stroke="#000" stroke-width="0.6"/><circle cx="444.7" cy="246.4" r="2.15" fill="#0000ff" stroke="#000" stroke-width="0.6"/><circle cx="424.0" cy="239.9" r="2.15" fill="#0000ff" stroke="#000" stroke-width="0.6"/><circle cx="415.1" cy="203.4" r="2.15" fill="#0000ff" stroke="#000" stroke-width="0.6"/><circle cx="413.6" cy="214.7" r="2.15" fill="#0000ff" stroke="#000" stroke-width="0.6"/><circle cx="446.8" cy="234.7" r="2.15" fill="#0000ff" stroke="#000" stroke-width="0.6"/><circle cx="433.5" cy="219.1" r="2.15" fill="#0000ff" stroke="#000" stroke-width="0.6"/><circle cx="436.9" cy="233.1" r="2.15" fill="#0000ff" stroke="#000" stroke-width="0.6"/><circle cx="446.9" cy="217.5" r="2.15" fill="#0000ff" stroke="#000" stroke-width="0.6"/><circle cx="418.8" cy="207.7" r="2.15" fill="#0000ff" stroke="#000" stroke-width="0.6"/><circle cx="431.6" cy="216.3" r="2.15" fill="#0000ff" stroke="#000" stroke-width="0.6"/><circle cx="407.0" cy="215.5" r="2.15" fill="#0000ff" stroke="#000" stroke-width="0.6"/><circle cx="428.1" cy="242.8" r="2.15" fill="#0000ff" stroke="#000" stroke-width="0.6"/><circle cx="442.3" cy="242.2" r="2.15" fill="#0000ff" stroke="#000" stroke-width="0.6"/><circle cx="449.0" cy="227.5" r="2.15" fill="#0000ff" stroke="#000" stroke-width="0.6"/><circle cx="422.0" cy="217.3" r="2.15" fill="#0000ff" stroke="#000" stroke-width="0.6"/><circle cx="411.0" cy="205.4" r="2.15" fill="#0000ff" stroke="#000" stroke-width="0.6"/><circle cx="446.9" cy="229.9" r="2.15" fill="#0000ff" stroke="#000" stroke-width="0.6"/><circle cx="428.7" cy="212.1" r="2.15" fill="#0000ff" stroke="#000" stroke-width="0.6"/><circle cx="394.1" cy="207.2" r="2.15" fill="#0000ff" stroke="#000" stroke-width="0.6"/><circle cx="410.4" cy="208.3" r="2.15" fill="#0000ff" stroke="#000" stroke-width="0.6"/><circle cx="424.1" cy="221.9" r="2.15" fill="#0000ff" stroke="#000" stroke-width="0.6"/><circle cx="429.7" cy="218.8" r="2.15" fill="#0000ff" stroke="#000" stroke-width="0.6"/><circle cx="434.3" cy="212.9" r="2.15" fill="#0000ff" stroke="#000" stroke-width="0.6"/><circle cx="446.3" cy="224.2" r="2.15" fill="#0000ff" stroke="#000" stroke-width="0.6"/><circle cx="442.3" cy="234.7" r="2.15" fill="#0000ff" stroke="#000" stroke-width="0.6"/><circle cx="428.2" cy="238.1" r="2.15" fill="#0000ff" stroke="#000" stroke-width="0.6"/><circle cx="448.3" cy="237.7" r="2.15" fill="#0000ff" stroke="#000" stroke-width="0.6"/><circle cx="424.5" cy="214.9" r="2.15" fill="#0000ff" stroke="#000" stroke-width="0.6"/><circle cx="407.2" cy="202.8" r="2.15" fill="#0000ff" stroke="#000" stroke-width="0.6"/><circle cx="394.1" cy="210.3" r="2.15" fill="#0000ff" stroke="#000" stroke-width="0.6"/><circle cx="440.6" cy="238.3" r="2.15" fill="#0000ff" stroke="#000" stroke-width="0.6"/><circle cx="429.1" cy="226.6" r="2.15" fill="#0000ff" stroke="#000" stroke-width="0.6"/><circle cx="429.5" cy="207.3" r="2.15" fill="#0000ff" stroke="#000" stroke-width="0.6"/><circle cx="424.7" cy="229.7" r="2.15" fill="#0000ff" stroke="#000" stroke-width="0.6"/><circle cx="426.4" cy="218.2" r="2.15" fill="#0000ff" stroke="#000" stroke-width="0.6"/><circle cx="411.1" cy="217.0" r="2.15" fill="#0000ff" stroke="#000" stroke-width="0.6"/><circle cx="406.7" cy="208.6" r="2.15" fill="#0000ff" stroke="#000" stroke-width="0.6"/><circle cx="429.9" cy="231.9" r="2.15" fill="#0000ff" stroke="#000" stroke-width="0.6"/><circle cx="434.3" cy="238.0" r="2.15" fill="#0000ff" stroke="#000" stroke-width="0.6"/><circle cx="435.0" cy="224.7" r="2.15" fill="#0000ff" stroke="#000" stroke-width="0.6"/><circle cx="441.3" cy="220.5" r="2.15" fill="#0000ff" stroke="#000" stroke-width="0.6"/><circle cx="441.6" cy="245.6" r="2.15" fill="#0000ff" stroke="#000" stroke-width="0.6"/><circle cx="424.8" cy="227.0" r="2.15" fill="#0000ff" stroke="#000" stroke-width="0.6"/><circle cx="432.1" cy="244.2" r="2.15" fill="#0000ff" stroke="#000" stroke-width="0.6"/><circle cx="436.4" cy="241.8" r="2.15" fill="#0000ff" stroke="#000" stroke-width="0.6"/><circle cx="398.8" cy="224.1" r="2.15" fill="#0000ff" stroke="#000" stroke-width="0.6"/><circle cx="417.1" cy="215.4" r="2.15" fill="#0000ff" stroke="#000" stroke-width="0.6"/><circle cx="443.3" cy="214.9" r="2.15" fill="#0000ff" stroke="#000" stroke-width="0.6"/><circle cx="405.1" cy="204.6" r="2.15" fill="#0000ff" stroke="#000" stroke-width="0.6"/><circle cx="450.5" cy="239.4" r="2.15" fill="#0000ff" stroke="#000" stroke-width="0.6"/><circle cx="411.5" cy="200.9" r="2.15" fill="#0000ff" stroke="#000" stroke-width="0.6"/><circle cx="431.2" cy="223.6" r="2.15" fill="#0000ff" stroke="#000" stroke-width="0.6"/><circle cx="424.4" cy="207.0" r="2.15" fill="#0000ff" stroke="#000" stroke-width="0.6"/><circle cx="412.0" cy="229.3" r="2.15" fill="#0000ff" stroke="#000" stroke-width="0.6"/><circle cx="403.1" cy="210.5" r="2.15" fill="#0000ff" stroke="#000" stroke-width="0.6"/><circle cx="428.2" cy="234.9" r="2.15" fill="#0000ff" stroke="#000" stroke-width="0.6"/><circle cx="409.1" cy="227.2" r="2.15" fill="#0000ff" stroke="#000" stroke-width="0.6"/><circle cx="447.6" cy="244.7" r="2.15" fill="#0000ff" stroke="#000" stroke-width="0.6"/><circle cx="398.4" cy="207.5" r="2.15" fill="#0000ff" stroke="#000" stroke-width="0.6"/><circle cx="403.1" cy="229.7" r="2.15" fill="#0000ff" stroke="#000" stroke-width="0.6"/><circle cx="420.7" cy="205.4" r="2.15" fill="#0000ff" stroke="#000" stroke-width="0.6"/><circle cx="403.6" cy="224.5" r="2.15" fill="#0000ff" stroke="#000" stroke-width="0.6"/><circle cx="420.5" cy="200.9" r="2.15" fill="#0000ff" stroke="#000" stroke-width="0.6"/><circle cx="442.2" cy="228.8" r="2.15" fill="#0000ff" stroke="#000" stroke-width="0.6"/><circle cx="406.2" cy="229.8" r="2.15" fill="#0000ff" stroke="#000" stroke-width="0.6"/><circle cx="400.5" cy="218.5" r="2.15" fill="#0000ff" stroke="#000" stroke-width="0.6"/><circle cx="421.3" cy="222.3" r="2.15" fill="#0000ff" stroke="#000" stroke-width="0.6"/><circle cx="444.3" cy="221.8" r="2.15" fill="#0000ff" stroke="#000" stroke-width="0.6"/><circle cx="427.2" cy="231.1" r="2.15" fill="#0000ff" stroke="#000" stroke-width="0.6"/><circle cx="414.8" cy="228.0" r="2.15" fill="#0000ff" stroke="#000" stroke-width="0.6"/><circle cx="439.2" cy="249.9" r="2.15" fill="#0000ff" stroke="#000" stroke-width="0.6"/><circle cx="408.8" cy="223.6" r="2.15" fill="#0000ff" stroke="#000" stroke-width="0.6"/><circle cx="419.8" cy="214.5" r="2.15" fill="#0000ff" stroke="#000" stroke-width="0.6"/><circle cx="386.9" cy="211.2" r="2.15" fill="#0000ff" stroke="#000" stroke-width="0.6"/><circle cx="389.0" cy="212.0" r="2.15" fill="#0000ff" stroke="#000" stroke-width="0.6"/><circle cx="445.0" cy="205.0" r="2.15" fill="#0000ff" stroke="#000" stroke-width="0.6"/><circle cx="400.0" cy="208.0" r="2.15" fill="#0000ff" stroke="#000" stroke-width="0.6"/><circle cx="453.4" cy="200.0" r="2.15" fill="#ff0000" stroke="#000" stroke-width="0.6"/><circle cx="448.8" cy="199.8" r="2.15" fill="#ff0000" stroke="#000" stroke-width="0.6"/><circle cx="456.3" cy="196.7" r="2.15" fill="#ff0000" stroke="#000" stroke-width="0.6"/><circle cx="445.7" cy="209.3" r="2.15" fill="#ff0000" stroke="#000" stroke-width="0.6"/><circle cx="453.5" cy="195.7" r="2.15" fill="#ff0000" stroke="#000" stroke-width="0.6"/><circle cx="444.8" cy="206.6" r="2.15" fill="#ff0000" stroke="#000" stroke-width="0.6"/><circle cx="450.6" cy="201.8" r="2.15" fill="#ff0000" stroke="#000" stroke-width="0.6"/><circle cx="459.2" cy="191.5" r="2.15" fill="#ff0000" stroke="#000" stroke-width="0.6"/><circle cx="448.6" cy="205.2" r="2.15" fill="#ff0000" stroke="#000" stroke-width="0.6"/><circle cx="451.5" cy="197.9" r="2.15" fill="#ff0000" stroke="#000" stroke-width="0.6"/><circle cx="456.5" cy="190.3" r="2.15" fill="#ff0000" stroke="#000" stroke-width="0.6"/><circle cx="456.7" cy="194.1" r="2.15" fill="#ff0000" stroke="#000" stroke-width="0.6"/><circle cx="446.2" cy="204.0" r="2.15" fill="#ff0000" stroke="#000" stroke-width="0.6"/><circle cx="453.5" cy="192.8" r="2.15" fill="#ff0000" stroke="#000" stroke-width="0.6"/><circle cx="464.2" cy="190.4" r="2.15" fill="#ff0000" stroke="#000" stroke-width="0.6"/><circle cx="468.0" cy="190.3" r="2.15" fill="#ff0000" stroke="#000" stroke-width="0.6"/><circle cx="474.7" cy="186.6" r="2.15" fill="#ff0000" stroke="#000" stroke-width="0.6"/><circle cx="471.7" cy="190.5" r="2.15" fill="#ff0000" stroke="#000" stroke-width="0.6"/><circle cx="465.4" cy="186.5" r="2.15" fill="#ff0000" stroke="#000" stroke-width="0.6"/><circle cx="469.9" cy="185.8" r="2.15" fill="#ff0000" stroke="#000" stroke-width="0.6"/><circle cx="462.6" cy="187.1" r="2.15" fill="#ff0000" stroke="#000" stroke-width="0.6"/><circle cx="476.1" cy="189.7" r="2.15" fill="#ff0000" stroke="#000" stroke-width="0.6"/><circle cx="472.4" cy="184.6" r="2.15" fill="#ff0000" stroke="#000" stroke-width="0.6"/><circle cx="485.5" cy="194.9" r="2.15" fill="#ff0000" stroke="#000" stroke-width="0.6"/><circle cx="487.5" cy="198.7" r="2.15" fill="#ff0000" stroke="#000" stroke-width="0.6"/><circle cx="490.2" cy="195.9" r="2.15" fill="#ff0000" stroke="#000" stroke-width="0.6"/><circle cx="480.9" cy="199.9" r="2.15" fill="#ff0000" stroke="#000" stroke-width="0.6"/><circle cx="483.1" cy="204.4" r="2.15" fill="#ff0000" stroke="#000" stroke-width="0.6"/><circle cx="487.4" cy="203.3" r="2.15" fill="#ff0000" stroke="#000" stroke-width="0.6"/><circle cx="490.1" cy="200.1" r="2.15" fill="#ff0000" stroke="#000" stroke-width="0.6"/><circle cx="481.4" cy="196.5" r="2.15" fill="#ff0000" stroke="#000" stroke-width="0.6"/><circle cx="459.8" cy="163.8" r="2.15" fill="#ff0000" stroke="#000" stroke-width="0.6"/><circle cx="470.2" cy="179.5" r="2.15" fill="#ff0000" stroke="#000" stroke-width="0.6"/><circle cx="468.0" cy="177.0" r="2.15" fill="#ff0000" stroke="#000" stroke-width="0.6"/><circle cx="455.9" cy="186.0" r="2.15" fill="#ff0000" stroke="#000" stroke-width="0.6"/><circle cx="468.9" cy="210.7" r="2.15" fill="#ff0000" stroke="#000" stroke-width="0.6"/><circle cx="475.4" cy="210.7" r="2.15" fill="#ff0000" stroke="#000" stroke-width="0.6"/><circle cx="487.1" cy="217.2" r="2.15" fill="#ff0000" stroke="#000" stroke-width="0.6"/><circle cx="492.3" cy="214.6" r="2.15" fill="#ff0000" stroke="#000" stroke-width="0.6"/><circle cx="466.0" cy="204.0" r="2.15" fill="#ff0000" stroke="#000" stroke-width="0.6"/><circle cx="471.0" cy="207.0" r="2.15" fill="#ff0000" stroke="#000" stroke-width="0.6"/><circle cx="462.0" cy="199.0" r="2.15" fill="#ff0000" stroke="#000" stroke-width="0.6"/><circle cx="448.9" cy="232.9" r="2.15" fill="#00f400" stroke="#000" stroke-width="0.6"/><circle cx="450.3" cy="229.4" r="2.15" fill="#00f400" stroke="#000" stroke-width="0.6"/><circle cx="464.6" cy="223.4" r="2.15" fill="#00f400" stroke="#000" stroke-width="0.6"/><circle cx="457.9" cy="224.7" r="2.15" fill="#00f400" stroke="#000" stroke-width="0.6"/><circle cx="447.1" cy="231.2" r="2.15" fill="#00f400" stroke="#000" stroke-width="0.6"/><circle cx="457.7" cy="228.7" r="2.15" fill="#00f400" stroke="#000" stroke-width="0.6"/><circle cx="461.4" cy="225.2" r="2.15" fill="#00f400" stroke="#000" stroke-width="0.6"/><circle cx="455.8" cy="222.6" r="2.15" fill="#00f400" stroke="#000" stroke-width="0.6"/><circle cx="469.0" cy="220.8" r="2.15" fill="#00f400" stroke="#000" stroke-width="0.6"/><circle cx="466.0" cy="220.4" r="2.15" fill="#00f400" stroke="#000" stroke-width="0.6"/><circle cx="450.7" cy="234.3" r="2.15" fill="#00f400" stroke="#000" stroke-width="0.6"/><circle cx="466.1" cy="217.0" r="2.15" fill="#00f400" stroke="#000" stroke-width="0.6"/><circle cx="468.4" cy="217.9" r="2.15" fill="#00f400" stroke="#000" stroke-width="0.6"/><circle cx="461.3" cy="218.1" r="2.15" fill="#00f400" stroke="#000" stroke-width="0.6"/><circle cx="452.7" cy="231.9" r="2.15" fill="#00f400" stroke="#000" stroke-width="0.6"/><circle cx="463.5" cy="216.1" r="2.15" fill="#00f400" stroke="#000" stroke-width="0.6"/><circle cx="460.5" cy="221.5" r="2.15" fill="#00f400" stroke="#000" stroke-width="0.6"/><circle cx="470.5" cy="216.9" r="2.15" fill="#00f400" stroke="#000" stroke-width="0.6"/><circle cx="468.0" cy="222.9" r="2.15" fill="#00f400" stroke="#000" stroke-width="0.6"/><circle cx="447.1" cy="227.9" r="2.15" fill="#00f400" stroke="#000" stroke-width="0.6"/><circle cx="583.3" cy="239.5" r="2.15" fill="#0000ff" stroke="#000" stroke-width="0.6"/><circle cx="580.2" cy="223.8" r="2.15" fill="#0000ff" stroke="#000" stroke-width="0.6"/><circle cx="603.1" cy="220.4" r="2.15" fill="#0000ff" stroke="#000" stroke-width="0.6"/><circle cx="594.7" cy="223.3" r="2.15" fill="#0000ff" stroke="#000" stroke-width="0.6"/><circle cx="584.8" cy="230.7" r="2.15" fill="#0000ff" stroke="#000" stroke-width="0.6"/><circle cx="578.6" cy="245.9" r="2.15" fill="#0000ff" stroke="#000" stroke-width="0.6"/><circle cx="583.2" cy="245.1" r="2.15" fill="#0000ff" stroke="#000" stroke-width="0.6"/><circle cx="592.8" cy="241.9" r="2.15" fill="#0000ff" stroke="#000" stroke-width="0.6"/><circle cx="596.0" cy="230.7" r="2.15" fill="#0000ff" stroke="#000" stroke-width="0.6"/><circle cx="587.7" cy="230.7" r="2.15" fill="#0000ff" stroke="#000" stroke-width="0.6"/><circle cx="595.6" cy="241.6" r="2.15" fill="#0000ff" stroke="#000" stroke-width="0.6"/><circle cx="578.1" cy="239.2" r="2.15" fill="#0000ff" stroke="#000" stroke-width="0.6"/><circle cx="591.0" cy="222.0" r="2.15" fill="#0000ff" stroke="#000" stroke-width="0.6"/><circle cx="580.9" cy="233.9" r="2.15" fill="#0000ff" stroke="#000" stroke-width="0.6"/><circle cx="578.0" cy="232.8" r="2.15" fill="#0000ff" stroke="#000" stroke-width="0.6"/><circle cx="580.6" cy="228.5" r="2.15" fill="#0000ff" stroke="#000" stroke-width="0.6"/><circle cx="575.6" cy="238.3" r="2.15" fill="#0000ff" stroke="#000" stroke-width="0.6"/><circle cx="612.3" cy="229.3" r="2.15" fill="#0000ff" stroke="#000" stroke-width="0.6"/><circle cx="599.1" cy="221.4" r="2.15" fill="#0000ff" stroke="#000" stroke-width="0.6"/><circle cx="589.7" cy="245.8" r="2.15" fill="#0000ff" stroke="#000" stroke-width="0.6"/><circle cx="588.1" cy="240.5" r="2.15" fill="#0000ff" stroke="#000" stroke-width="0.6"/><circle cx="581.3" cy="237.1" r="2.15" fill="#0000ff" stroke="#000" stroke-width="0.6"/><circle cx="596.7" cy="236.2" r="2.15" fill="#0000ff" stroke="#000" stroke-width="0.6"/><circle cx="586.7" cy="226.1" r="2.15" fill="#0000ff" stroke="#000" stroke-width="0.6"/><circle cx="600.4" cy="226.1" r="2.15" fill="#0000ff" stroke="#000" stroke-width="0.6"/><circle cx="573.8" cy="233.1" r="2.15" fill="#0000ff" stroke="#000" stroke-width="0.6"/><circle cx="607.9" cy="224.8" r="2.15" fill="#0000ff" stroke="#000" stroke-width="0.6"/><circle cx="597.0" cy="228.1" r="2.15" fill="#0000ff" stroke="#000" stroke-width="0.6"/><circle cx="582.7" cy="225.8" r="2.15" fill="#0000ff" stroke="#000" stroke-width="0.6"/><circle cx="576.1" cy="242.0" r="2.15" fill="#0000ff" stroke="#000" stroke-width="0.6"/><circle cx="604.8" cy="222.5" r="2.15" fill="#0000ff" stroke="#000" stroke-width="0.6"/><circle cx="592.5" cy="235.0" r="2.15" fill="#0000ff" stroke="#000" stroke-width="0.6"/><circle cx="586.0" cy="246.6" r="2.15" fill="#0000ff" stroke="#000" stroke-width="0.6"/><circle cx="595.2" cy="220.2" r="2.15" fill="#0000ff" stroke="#000" stroke-width="0.6"/><circle cx="608.7" cy="221.1" r="2.15" fill="#0000ff" stroke="#000" stroke-width="0.6"/><circle cx="592.5" cy="228.7" r="2.15" fill="#0000ff" stroke="#000" stroke-width="0.6"/><circle cx="586.9" cy="243.5" r="2.15" fill="#0000ff" stroke="#000" stroke-width="0.6"/><circle cx="594.2" cy="247.6" r="2.15" fill="#0000ff" stroke="#000" stroke-width="0.6"/><circle cx="598.4" cy="244.8" r="2.15" fill="#0000ff" stroke="#000" stroke-width="0.6"/><circle cx="606.4" cy="234.3" r="2.15" fill="#0000ff" stroke="#000" stroke-width="0.6"/><circle cx="590.2" cy="237.3" r="2.15" fill="#0000ff" stroke="#000" stroke-width="0.6"/><circle cx="584.6" cy="242.1" r="2.15" fill="#0000ff" stroke="#000" stroke-width="0.6"/><circle cx="608.1" cy="230.2" r="2.15" fill="#0000ff" stroke="#000" stroke-width="0.6"/><circle cx="573.9" cy="244.2" r="2.15" fill="#0000ff" stroke="#000" stroke-width="0.6"/><circle cx="609.4" cy="233.0" r="2.15" fill="#0000ff" stroke="#000" stroke-width="0.6"/><circle cx="594.2" cy="244.6" r="2.15" fill="#0000ff" stroke="#000" stroke-width="0.6"/><circle cx="581.4" cy="241.5" r="2.15" fill="#0000ff" stroke="#000" stroke-width="0.6"/><circle cx="599.6" cy="230.6" r="2.15" fill="#0000ff" stroke="#000" stroke-width="0.6"/><circle cx="611.1" cy="224.8" r="2.15" fill="#0000ff" stroke="#000" stroke-width="0.6"/><circle cx="604.2" cy="227.6" r="2.15" fill="#0000ff" stroke="#000" stroke-width="0.6"/><circle cx="602.6" cy="238.9" r="2.15" fill="#0000ff" stroke="#000" stroke-width="0.6"/><circle cx="597.1" cy="224.7" r="2.15" fill="#0000ff" stroke="#000" stroke-width="0.6"/><circle cx="597.4" cy="217.8" r="2.15" fill="#0000ff" stroke="#000" stroke-width="0.6"/><circle cx="599.3" cy="236.9" r="2.15" fill="#0000ff" stroke="#000" stroke-width="0.6"/><circle cx="584.8" cy="222.9" r="2.15" fill="#0000ff" stroke="#000" stroke-width="0.6"/><circle cx="600.0" cy="240.3" r="2.15" fill="#0000ff" stroke="#000" stroke-width="0.6"/><circle cx="584.2" cy="235.8" r="2.15" fill="#0000ff" stroke="#000" stroke-width="0.6"/><circle cx="601.9" cy="235.7" r="2.15" fill="#0000ff" stroke="#000" stroke-width="0.6"/><circle cx="605.2" cy="231.1" r="2.15" fill="#0000ff" stroke="#000" stroke-width="0.6"/><circle cx="593.7" cy="218.0" r="2.15" fill="#0000ff" stroke="#000" stroke-width="0.6"/><circle cx="578.7" cy="243.2" r="2.15" fill="#0000ff" stroke="#000" stroke-width="0.6"/><circle cx="602.3" cy="231.9" r="2.15" fill="#0000ff" stroke="#000" stroke-width="0.6"/><circle cx="627.4" cy="222.2" r="2.15" fill="#0000ff" stroke="#000" stroke-width="0.6"/><circle cx="627.5" cy="225.4" r="2.15" fill="#0000ff" stroke="#000" stroke-width="0.6"/><circle cx="639.8" cy="219.2" r="2.15" fill="#0000ff" stroke="#000" stroke-width="0.6"/><circle cx="632.8" cy="208.4" r="2.15" fill="#0000ff" stroke="#000" stroke-width="0.6"/><circle cx="633.0" cy="221.2" r="2.15" fill="#0000ff" stroke="#000" stroke-width="0.6"/><circle cx="629.2" cy="210.9" r="2.15" fill="#0000ff" stroke="#000" stroke-width="0.6"/><circle cx="623.9" cy="218.9" r="2.15" fill="#0000ff" stroke="#000" stroke-width="0.6"/><circle cx="628.4" cy="207.8" r="2.15" fill="#0000ff" stroke="#000" stroke-width="0.6"/><circle cx="633.7" cy="211.2" r="2.15" fill="#0000ff" stroke="#000" stroke-width="0.6"/><circle cx="623.3" cy="213.7" r="2.15" fill="#0000ff" stroke="#000" stroke-width="0.6"/><circle cx="638.1" cy="222.3" r="2.15" fill="#0000ff" stroke="#000" stroke-width="0.6"/><circle cx="636.8" cy="215.8" r="2.15" fill="#0000ff" stroke="#000" stroke-width="0.6"/><circle cx="623.0" cy="222.5" r="2.15" fill="#0000ff" stroke="#000" stroke-width="0.6"/><circle cx="620.7" cy="211.4" r="2.15" fill="#0000ff" stroke="#000" stroke-width="0.6"/><circle cx="636.7" cy="210.8" r="2.15" fill="#0000ff" stroke="#000" stroke-width="0.6"/><circle cx="625.1" cy="209.0" r="2.15" fill="#0000ff" stroke="#000" stroke-width="0.6"/><circle cx="639.9" cy="216.0" r="2.15" fill="#0000ff" stroke="#000" stroke-width="0.6"/><circle cx="620.9" cy="215.7" r="2.15" fill="#0000ff" stroke="#000" stroke-width="0.6"/><circle cx="634.6" cy="224.9" r="2.15" fill="#0000ff" stroke="#000" stroke-width="0.6"/><circle cx="630.3" cy="215.6" r="2.15" fill="#0000ff" stroke="#000" stroke-width="0.6"/><circle cx="627.7" cy="218.9" r="2.15" fill="#0000ff" stroke="#000" stroke-width="0.6"/><circle cx="624.4" cy="225.7" r="2.15" fill="#0000ff" stroke="#000" stroke-width="0.6"/><circle cx="630.6" cy="219.4" r="2.15" fill="#0000ff" stroke="#000" stroke-width="0.6"/><circle cx="630.4" cy="224.8" r="2.15" fill="#0000ff" stroke="#000" stroke-width="0.6"/><circle cx="626.3" cy="215.7" r="2.15" fill="#0000ff" stroke="#000" stroke-width="0.6"/><circle cx="626.3" cy="213.0" r="2.15" fill="#0000ff" stroke="#000" stroke-width="0.6"/><circle cx="646.0" cy="200.3" r="2.15" fill="#0000ff" stroke="#000" stroke-width="0.6"/><circle cx="579.0" cy="218.0" r="2.15" fill="#0000ff" stroke="#000" stroke-width="0.6"/><circle cx="599.8" cy="203.4" r="2.15" fill="#0000ff" stroke="#000" stroke-width="0.6"/><circle cx="602.4" cy="205.5" r="2.15" fill="#0000ff" stroke="#000" stroke-width="0.6"/><circle cx="606.9" cy="209.4" r="2.15" fill="#0000ff" stroke="#000" stroke-width="0.6"/><circle cx="607.7" cy="212.0" r="2.15" fill="#0000ff" stroke="#000" stroke-width="0.6"/><circle cx="619.4" cy="193.8" r="2.15" fill="#0000ff" stroke="#000" stroke-width="0.6"/><circle cx="623.3" cy="192.5" r="2.15" fill="#0000ff" stroke="#000" stroke-width="0.6"/><circle cx="620.5" cy="198.0" r="2.15" fill="#0000ff" stroke="#000" stroke-width="0.6"/><circle cx="621.0" cy="203.0" r="2.15" fill="#0000ff" stroke="#000" stroke-width="0.6"/><circle cx="584.0" cy="212.0" r="2.15" fill="#0000ff" stroke="#000" stroke-width="0.6"/><circle cx="585.5" cy="159.2" r="2.15" fill="#ff0000" stroke="#000" stroke-width="0.6"/><circle cx="590.7" cy="155.3" r="2.15" fill="#ff0000" stroke="#000" stroke-width="0.6"/><circle cx="562.6" cy="171.7" r="2.15" fill="#ff0000" stroke="#000" stroke-width="0.6"/><circle cx="563.4" cy="176.4" r="2.15" fill="#ff0000" stroke="#000" stroke-width="0.6"/><circle cx="580.8" cy="179.0" r="2.15" fill="#ff0000" stroke="#000" stroke-width="0.6"/><circle cx="554.3" cy="187.8" r="2.15" fill="#ff0000" stroke="#000" stroke-width="0.6"/><circle cx="559.0" cy="187.3" r="2.15" fill="#ff0000" stroke="#000" stroke-width="0.6"/><circle cx="551.1" cy="190.4" r="2.15" fill="#ff0000" stroke="#000" stroke-width="0.6"/><circle cx="543.3" cy="197.2" r="2.15" fill="#ff0000" stroke="#000" stroke-width="0.6"/><circle cx="564.7" cy="194.6" r="2.15" fill="#ff0000" stroke="#000" stroke-width="0.6"/><circle cx="563.4" cy="197.2" r="2.15" fill="#ff0000" stroke="#000" stroke-width="0.6"/><circle cx="568.6" cy="200.3" r="2.15" fill="#ff0000" stroke="#000" stroke-width="0.6"/><circle cx="571.2" cy="200.8" r="2.15" fill="#ff0000" stroke="#000" stroke-width="0.6"/><circle cx="575.1" cy="202.4" r="2.15" fill="#ff0000" stroke="#000" stroke-width="0.6"/><circle cx="577.2" cy="201.6" r="2.15" fill="#ff0000" stroke="#000" stroke-width="0.6"/><circle cx="573.0" cy="208.6" r="2.15" fill="#ff0000" stroke="#000" stroke-width="0.6"/><circle cx="543.3" cy="218.0" r="2.15" fill="#ff0000" stroke="#000" stroke-width="0.6"/><circle cx="549.0" cy="228.4" r="2.15" fill="#00f400" stroke="#000" stroke-width="0.6"/><circle cx="549.6" cy="230.3" r="2.15" fill="#00f400" stroke="#000" stroke-width="0.6"/><circle cx="556.9" cy="225.8" r="2.15" fill="#00f400" stroke="#000" stroke-width="0.6"/><circle cx="558.2" cy="229.5" r="2.15" fill="#00f400" stroke="#000" stroke-width="0.6"/><circle cx="566.0" cy="218.0" r="2.15" fill="#00f400" stroke="#000" stroke-width="0.6"/><defs>
<radialGradient id="redblob" cx="0.5" cy="0.5" r="0.6">
<stop offset="0" stop-color="#f0c0c2"/><stop offset="0.8" stop-color="#f0b8b8"/><stop offset="1" stop-color="#e8a4a4"/>
</radialGradient>
<radialGradient id="blueblob" cx="0.5" cy="0.5" r="0.6">
<stop offset="0" stop-color="#e4ebf0"/><stop offset="0.85" stop-color="#dce5ec"/><stop offset="1" stop-color="#ccd8e2"/>
</radialGradient>
</defs><path d="M131.1,324.8 C133.6,323.9 138.5,323.5 140.7,323.8 C142.9,324.1 143.9,324.2 144.5,326.7 C145.1,329.2 144.6,335.8 144.1,339.0 C143.6,342.2 143.8,343.5 141.6,345.7 C139.4,347.9 134.8,350.0 131.1,352.4 C127.4,354.8 122.9,356.8 119.7,360.0 C116.5,363.2 114.3,367.6 112.1,371.4 C109.9,375.2 108.3,379.0 106.4,382.8 C104.5,386.6 102.6,391.0 100.7,394.2 C98.8,397.4 96.9,400.3 95.0,401.9 C93.1,403.5 90.4,404.8 89.3,403.8 C88.2,402.8 88.3,400.6 88.3,396.1 C88.3,391.7 88.7,382.5 89.3,377.1 C89.9,371.7 89.9,367.6 92.1,363.8 C94.3,360.0 98.3,358.1 102.6,354.3 C106.9,350.5 114.0,345.0 117.8,340.9 C121.6,336.8 123.2,332.2 125.4,329.5 C127.6,326.8 128.6,325.8 131.1,324.8 Z" fill="url(#blueblob)"/><path d="M75.9,360.9 C78.5,360.4 83.1,359.8 85.5,360.9 C87.9,362.0 89.4,364.3 90.2,367.6 C91.0,370.9 90.2,375.8 90.2,380.9 C90.2,386.0 90.8,393.7 90.2,398.0 C89.6,402.3 88.5,404.9 86.4,406.6 C84.3,408.4 80.8,409.0 77.8,408.5 C74.8,408.0 71.0,406.2 68.3,403.8 C65.6,401.4 63.3,397.7 61.7,394.2 C60.1,390.7 58.5,386.6 58.8,382.8 C59.1,379.0 61.7,374.6 63.6,371.4 C65.5,368.2 68.2,365.6 70.2,363.8 C72.2,362.1 73.4,361.4 75.9,360.9 Z" fill="url(#redblob)" opacity="0.95"/><path d="M191.0,332.0 C193.1,327.6 196.5,327.1 200.4,325.9 C204.3,324.7 209.9,324.4 214.3,324.9 C218.7,325.4 222.9,326.5 226.8,329.0 C230.7,331.5 234.9,335.4 237.6,339.8 C240.3,344.2 242.1,349.2 243.2,355.4 C244.2,361.6 244.3,369.3 243.9,377.1 C243.5,384.9 242.3,394.8 240.7,402.0 C239.1,409.2 237.1,414.9 234.5,420.6 C231.9,426.3 228.8,431.7 225.2,436.1 C221.6,440.5 217.5,443.9 212.8,447.0 C208.2,450.1 202.2,453.0 197.3,454.8 C192.4,456.6 186.4,458.4 183.3,457.9 C180.2,457.4 178.6,459.9 178.6,451.6 C178.6,443.3 182.0,420.6 183.3,408.2 C184.6,395.8 185.6,386.4 186.4,377.1 C187.2,367.8 187.2,359.8 188.0,352.3 C188.8,344.8 188.9,336.4 191.0,332.0 Z" fill="url(#blueblob)"/><path d="M145.1,386.0 C149.8,385.0 158.1,384.7 163.1,385.0 C168.1,385.3 171.8,386.5 175.1,388.0 C178.4,389.5 181.6,390.3 183.1,394.0 C184.6,397.7 183.9,404.0 184.1,410.0 C184.3,416.0 184.4,422.1 184.1,430.1 C183.8,438.1 183.6,451.9 182.1,458.2 C180.6,464.5 178.6,465.5 175.1,468.2 C171.6,470.9 165.4,472.9 161.1,474.2 C156.8,475.5 152.8,477.2 149.1,476.2 C145.4,475.2 142.0,471.5 139.0,468.2 C136.0,464.9 133.7,460.9 131.0,456.2 C128.3,451.5 124.7,446.1 123.0,440.1 C121.3,434.1 120.3,426.5 121.0,420.1 C121.7,413.8 124.7,406.9 127.0,402.0 C129.3,397.1 132.0,393.7 135.0,391.0 C138.0,388.3 140.4,387.0 145.1,386.0 Z" fill="url(#redblob)" opacity="0.95"/><circle cx="64.3" cy="392.6" r="1.25" fill="#ff0000" stroke="#000" stroke-width="0.45"/><circle cx="76.5" cy="387.5" r="1.25" fill="#ff0000" stroke="#000" stroke-width="0.45"/><circle cx="65.6" cy="395.0" r="1.25" fill="#ff0000" stroke="#000" stroke-width="0.45"/><circle cx="81.0" cy="388.3" r="1.25" fill="#ff0000" stroke="#000" stroke-width="0.45"/><circle cx="73.1" cy="381.7" r="1.25" fill="#ff0000" stroke="#000" stroke-width="0.45"/><circle cx="60.1" cy="384.9" r="1.25" fill="#ff0000" stroke="#000" stroke-width="0.45"/><circle cx="75.2" cy="377.7" r="1.25" fill="#ff0000" stroke="#000" stroke-width="0.45"/><circle cx="80.6" cy="381.6" r="1.25" fill="#ff0000" stroke="#000" stroke-width="0.45"/><circle cx="82.8" cy="390.8" r="1.25" fill="#ff0000" stroke="#000" stroke-width="0.45"/><circle cx="72.9" cy="378.8" r="1.25" fill="#ff0000" stroke="#000" stroke-width="0.45"/><circle cx="84.8" cy="384.8" r="1.25" fill="#ff0000" stroke="#000" stroke-width="0.45"/><circle cx="71.8" cy="389.2" r="1.25" fill="#ff0000" stroke="#000" stroke-width="0.45"/><circle cx="68.9" cy="387.6" r="1.25" fill="#ff0000" stroke="#000" stroke-width="0.45"/><circle cx="79.6" cy="394.3" r="1.25" fill="#ff0000" stroke="#000" stroke-width="0.45"/><circle cx="75.1" cy="393.5" r="1.25" fill="#ff0000" stroke="#000" stroke-width="0.45"/><circle cx="63.2" cy="387.4" r="1.25" fill="#ff0000" stroke="#000" stroke-width="0.45"/><circle cx="70.6" cy="384.8" r="1.25" fill="#ff0000" stroke="#000" stroke-width="0.45"/><circle cx="65.8" cy="390.6" r="1.25" fill="#ff0000" stroke="#000" stroke-width="0.45"/><circle cx="74.5" cy="390.9" r="1.25" fill="#ff0000" stroke="#000" stroke-width="0.45"/><circle cx="64.7" cy="380.1" r="1.25" fill="#ff0000" stroke="#000" stroke-width="0.45"/><circle cx="69.1" cy="398.2" r="1.25" fill="#ff0000" stroke="#000" stroke-width="0.45"/><circle cx="69.0" cy="390.3" r="1.25" fill="#ff0000" stroke="#000" stroke-width="0.45"/><circle cx="68.0" cy="378.5" r="1.25" fill="#ff0000" stroke="#000" stroke-width="0.45"/><circle cx="61.7" cy="395.5" r="1.25" fill="#ff0000" stroke="#000" stroke-width="0.45"/><circle cx="80.2" cy="385.0" r="1.25" fill="#ff0000" stroke="#000" stroke-width="0.45"/><circle cx="77.8" cy="392.2" r="1.25" fill="#ff0000" stroke="#000" stroke-width="0.45"/><circle cx="70.6" cy="399.7" r="1.25" fill="#ff0000" stroke="#000" stroke-width="0.45"/><circle cx="85.0" cy="390.2" r="1.25" fill="#ff0000" stroke="#000" stroke-width="0.45"/><circle cx="83.0" cy="387.8" r="1.25" fill="#ff0000" stroke="#000" stroke-width="0.45"/><circle cx="69.8" cy="381.9" r="1.25" fill="#ff0000" stroke="#000" stroke-width="0.45"/><circle cx="82.8" cy="379.9" r="1.25" fill="#ff0000" stroke="#000" stroke-width="0.45"/><circle cx="81.8" cy="377.3" r="1.25" fill="#ff0000" stroke="#000" stroke-width="0.45"/><circle cx="66.7" cy="383.0" r="1.25" fill="#ff0000" stroke="#000" stroke-width="0.45"/><circle cx="70.9" cy="380.1" r="1.25" fill="#ff0000" stroke="#000" stroke-width="0.45"/><circle cx="66.6" cy="399.0" r="1.25" fill="#ff0000" stroke="#000" stroke-width="0.45"/><circle cx="60.7" cy="381.1" r="1.25" fill="#ff0000" stroke="#000" stroke-width="0.45"/><circle cx="81.8" cy="395.1" r="1.25" fill="#ff0000" stroke="#000" stroke-width="0.45"/><circle cx="82.1" cy="383.4" r="1.25" fill="#ff0000" stroke="#000" stroke-width="0.45"/><circle cx="77.8" cy="398.9" r="1.25" fill="#ff0000" stroke="#000" stroke-width="0.45"/><circle cx="60.6" cy="390.2" r="1.25" fill="#ff0000" stroke="#000" stroke-width="0.45"/><circle cx="76.7" cy="396.4" r="1.25" fill="#ff0000" stroke="#000" stroke-width="0.45"/><circle cx="75.2" cy="382.2" r="1.25" fill="#ff0000" stroke="#000" stroke-width="0.45"/><circle cx="86.5" cy="374.6" r="1.25" fill="#0000ff" stroke="#000" stroke-width="0.4"/><circle cx="93.6" cy="381.1" r="1.25" fill="#0000ff" stroke="#000" stroke-width="0.4"/><circle cx="92.9" cy="378.1" r="1.25" fill="#0000ff" stroke="#000" stroke-width="0.4"/><circle cx="87.7" cy="377.2" r="1.25" fill="#0000ff" stroke="#000" stroke-width="0.4"/><circle cx="91.0" cy="391.9" r="1.25" fill="#0000ff" stroke="#000" stroke-width="0.4"/><circle cx="96.4" cy="396.5" r="1.25" fill="#0000ff" stroke="#000" stroke-width="0.4"/><circle cx="97.4" cy="394.1" r="1.25" fill="#0000ff" stroke="#000" stroke-width="0.4"/><circle cx="87.8" cy="391.9" r="1.25" fill="#0000ff" stroke="#000" stroke-width="0.4"/><circle cx="90.0" cy="373.2" r="1.25" fill="#0000ff" stroke="#000" stroke-width="0.4"/><circle cx="91.2" cy="380.7" r="1.25" fill="#0000ff" stroke="#000" stroke-width="0.4"/><circle cx="93.0" cy="387.4" r="1.25" fill="#0000ff" stroke="#000" stroke-width="0.4"/><circle cx="94.6" cy="386.2" r="1.25" fill="#0000ff" stroke="#000" stroke-width="0.4"/><circle cx="96.8" cy="399.1" r="1.25" fill="#0000ff" stroke="#000" stroke-width="0.4"/><circle cx="97.2" cy="384.5" r="1.25" fill="#0000ff" stroke="#000" stroke-width="0.4"/><circle cx="85.8" cy="384.1" r="1.25" fill="#0000ff" stroke="#000" stroke-width="0.4"/><circle cx="98.1" cy="392.3" r="1.25" fill="#0000ff" stroke="#000" stroke-width="0.4"/><circle cx="91.2" cy="385.6" r="1.25" fill="#0000ff" stroke="#000" stroke-width="0.4"/><circle cx="95.0" cy="393.2" r="1.25" fill="#0000ff" stroke="#000" stroke-width="0.4"/><circle cx="96.2" cy="391.1" r="1.25" fill="#0000ff" stroke="#000" stroke-width="0.4"/><circle cx="91.2" cy="389.2" r="1.25" fill="#0000ff" stroke="#000" stroke-width="0.4"/><circle cx="91.3" cy="376.1" r="1.25" fill="#0000ff" stroke="#000" stroke-width="0.4"/><circle cx="93.9" cy="374.2" r="1.25" fill="#0000ff" stroke="#000" stroke-width="0.4"/><circle cx="107.1" cy="364.8" r="1.25" fill="#0000ff" stroke="#000" stroke-width="0.4"/><circle cx="99.4" cy="368.2" r="1.25" fill="#0000ff" stroke="#000" stroke-width="0.4"/><circle cx="106.0" cy="361.0" r="1.25" fill="#0000ff" stroke="#000" stroke-width="0.4"/><circle cx="96.8" cy="367.4" r="1.25" fill="#0000ff" stroke="#000" stroke-width="0.4"/><circle cx="98.3" cy="363.2" r="1.25" fill="#0000ff" stroke="#000" stroke-width="0.4"/><circle cx="101.3" cy="367.7" r="1.25" fill="#0000ff" stroke="#000" stroke-width="0.4"/><circle cx="98.3" cy="359.3" r="1.25" fill="#0000ff" stroke="#000" stroke-width="0.4"/><circle cx="100.3" cy="361.2" r="1.25" fill="#0000ff" stroke="#000" stroke-width="0.4"/><circle cx="110.8" cy="369.4" r="1.25" fill="#0000ff" stroke="#000" stroke-width="0.4"/><circle cx="94.8" cy="361.9" r="1.25" fill="#0000ff" stroke="#000" stroke-width="0.4"/><circle cx="101.6" cy="373.0" r="1.25" fill="#0000ff" stroke="#000" stroke-width="0.4"/><circle cx="108.0" cy="371.6" r="1.25" fill="#0000ff" stroke="#000" stroke-width="0.4"/><circle cx="103.5" cy="360.3" r="1.25" fill="#0000ff" stroke="#000" stroke-width="0.4"/><circle cx="108.5" cy="367.5" r="1.25" fill="#0000ff" stroke="#000" stroke-width="0.4"/><circle cx="104.8" cy="365.0" r="1.25" fill="#0000ff" stroke="#000" stroke-width="0.4"/><circle cx="108.2" cy="362.4" r="1.25" fill="#0000ff" stroke="#000" stroke-width="0.4"/><circle cx="94.3" cy="365.7" r="1.25" fill="#0000ff" stroke="#000" stroke-width="0.4"/><circle cx="98.1" cy="357.1" r="1.25" fill="#0000ff" stroke="#000" stroke-width="0.4"/><circle cx="105.9" cy="368.4" r="1.25" fill="#0000ff" stroke="#000" stroke-width="0.4"/><circle cx="96.0" cy="358.0" r="1.25" fill="#0000ff" stroke="#000" stroke-width="0.4"/><circle cx="110.7" cy="366.2" r="1.25" fill="#0000ff" stroke="#000" stroke-width="0.4"/><circle cx="99.7" cy="366.1" r="1.25" fill="#0000ff" stroke="#000" stroke-width="0.4"/><circle cx="132.9" cy="339.9" r="1.25" fill="#0000ff" stroke="#000" stroke-width="0.4"/><circle cx="134.3" cy="344.9" r="1.25" fill="#0000ff" stroke="#000" stroke-width="0.4"/><circle cx="130.5" cy="344.9" r="1.25" fill="#0000ff" stroke="#000" stroke-width="0.4"/><circle cx="127.9" cy="341.4" r="1.25" fill="#0000ff" stroke="#000" stroke-width="0.4"/><circle cx="131.5" cy="343.1" r="1.25" fill="#0000ff" stroke="#000" stroke-width="0.4"/><circle cx="136.0" cy="340.4" r="1.25" fill="#0000ff" stroke="#000" stroke-width="0.4"/><circle cx="133.9" cy="342.9" r="1.25" fill="#0000ff" stroke="#000" stroke-width="0.4"/><circle cx="124.2" cy="338.9" r="1.25" fill="#0000ff" stroke="#000" stroke-width="0.4"/><circle cx="135.9" cy="330.5" r="1.25" fill="#0000ff" stroke="#000" stroke-width="0.4"/><circle cx="123.5" cy="350.5" r="1.25" fill="#0000ff" stroke="#000" stroke-width="0.4"/><circle cx="125.0" cy="351.8" r="1.25" fill="#0000ff" stroke="#000" stroke-width="0.4"/><circle cx="112.0" cy="358.0" r="1.25" fill="#0000ff" stroke="#000" stroke-width="0.4"/><circle cx="114.0" cy="362.0" r="1.25" fill="#0000ff" stroke="#000" stroke-width="0.4"/><circle cx="116.0" cy="360.0" r="1.25" fill="#0000ff" stroke="#000" stroke-width="0.4"/><circle cx="209.7" cy="341.4" r="1.95" fill="#0000f4" stroke="#000" stroke-width="0.45"/><circle cx="217.5" cy="342.3" r="1.95" fill="#0000f4" stroke="#000" stroke-width="0.45"/><circle cx="200.4" cy="362.2" r="1.95" fill="#0000f4" stroke="#000" stroke-width="0.45"/><circle cx="210.6" cy="364.1" r="1.95" fill="#0000f4" stroke="#000" stroke-width="0.45"/><circle cx="221.5" cy="361.0" r="1.95" fill="#0000f4" stroke="#000" stroke-width="0.45"/><circle cx="222.1" cy="365.3" r="1.95" fill="#0000f4" stroke="#000" stroke-width="0.45"/><circle cx="234.5" cy="367.8" r="1.95" fill="#0000f4" stroke="#000" stroke-width="0.45"/><circle cx="192.6" cy="372.5" r="1.95" fill="#0000f4" stroke="#000" stroke-width="0.45"/><circle cx="201.9" cy="379.6" r="1.95" fill="#0000f4" stroke="#000" stroke-width="0.45"/><circle cx="205.0" cy="377.1" r="1.95" fill="#0000f4" stroke="#000" stroke-width="0.45"/><circle cx="214.3" cy="380.2" r="1.95" fill="#0000f4" stroke="#000" stroke-width="0.45"/><circle cx="225.8" cy="376.5" r="1.95" fill="#0000f4" stroke="#000" stroke-width="0.45"/><circle cx="230.8" cy="376.5" r="1.95" fill="#0000f4" stroke="#000" stroke-width="0.45"/><circle cx="212.8" cy="387.0" r="1.95" fill="#0000f4" stroke="#000" stroke-width="0.45"/><circle cx="194.2" cy="390.5" r="1.95" fill="#0000f4" stroke="#000" stroke-width="0.45"/><circle cx="203.5" cy="394.2" r="1.95" fill="#0000f4" stroke="#000" stroke-width="0.45"/><circle cx="206.6" cy="393.6" r="1.95" fill="#0000f4" stroke="#000" stroke-width="0.45"/><circle cx="213.4" cy="397.3" r="1.95" fill="#0000f4" stroke="#000" stroke-width="0.45"/><circle cx="217.5" cy="396.7" r="1.95" fill="#0000f4" stroke="#000" stroke-width="0.45"/><circle cx="163.1" cy="405.0" r="1.95" fill="#0000f4" stroke="#000" stroke-width="0.45"/><circle cx="173.0" cy="407.5" r="1.95" fill="#0000f4" stroke="#000" stroke-width="0.45"/><circle cx="174.9" cy="406.9" r="1.95" fill="#0000f4" stroke="#000" stroke-width="0.45"/><circle cx="184.2" cy="408.8" r="1.95" fill="#0000f4" stroke="#000" stroke-width="0.45"/><circle cx="172.4" cy="415.0" r="1.95" fill="#0000f4" stroke="#000" stroke-width="0.45"/><circle cx="181.7" cy="417.5" r="1.95" fill="#0000f4" stroke="#000" stroke-width="0.45"/><circle cx="195.7" cy="411.3" r="1.95" fill="#0000f4" stroke="#000" stroke-width="0.45"/><circle cx="193.5" cy="414.4" r="1.95" fill="#0000f4" stroke="#000" stroke-width="0.45"/><circle cx="209.0" cy="413.1" r="1.95" fill="#0000f4" stroke="#000" stroke-width="0.45"/><circle cx="191.0" cy="419.0" r="1.95" fill="#0000f4" stroke="#000" stroke-width="0.45"/><circle cx="203.5" cy="422.1" r="1.95" fill="#0000f4" stroke="#000" stroke-width="0.45"/><circle cx="170.0" cy="423.1" r="1.95" fill="#0000f4" stroke="#000" stroke-width="0.45"/><circle cx="184.8" cy="426.8" r="1.95" fill="#0000f4" stroke="#000" stroke-width="0.45"/><circle cx="187.3" cy="427.4" r="1.95" fill="#0000f4" stroke="#000" stroke-width="0.45"/><circle cx="198.8" cy="426.2" r="1.95" fill="#0000f4" stroke="#000" stroke-width="0.45"/><circle cx="215.3" cy="426.2" r="1.95" fill="#0000f4" stroke="#000" stroke-width="0.45"/><circle cx="180.2" cy="433.9" r="1.95" fill="#0000f4" stroke="#000" stroke-width="0.45"/><circle cx="188.9" cy="433.9" r="1.95" fill="#0000f4" stroke="#000" stroke-width="0.45"/><circle cx="173.1" cy="407.7" r="1.95" fill="#0000f4" stroke="#000" stroke-width="0.45"/><circle cx="174.7" cy="407.1" r="1.95" fill="#0000f4" stroke="#000" stroke-width="0.45"/><circle cx="183.5" cy="409.1" r="1.95" fill="#0000f4" stroke="#000" stroke-width="0.45"/><circle cx="172.7" cy="414.5" r="1.95" fill="#0000f4" stroke="#000" stroke-width="0.45"/><circle cx="182.1" cy="417.1" r="1.95" fill="#0000f4" stroke="#000" stroke-width="0.45"/><circle cx="182.7" cy="414.5" r="1.95" fill="#0000f4" stroke="#000" stroke-width="0.45"/><circle cx="170.1" cy="422.5" r="1.95" fill="#0000f4" stroke="#000" stroke-width="0.45"/><circle cx="183.1" cy="426.5" r="1.95" fill="#0000f4" stroke="#000" stroke-width="0.45"/><circle cx="186.1" cy="427.1" r="1.95" fill="#0000f4" stroke="#000" stroke-width="0.45"/><circle cx="180.1" cy="433.7" r="1.95" fill="#0000f4" stroke="#000" stroke-width="0.45"/><circle cx="189.1" cy="434.1" r="1.95" fill="#0000f4" stroke="#000" stroke-width="0.45"/><circle cx="191.6" cy="418.5" r="1.95" fill="#0000f4" stroke="#000" stroke-width="0.45"/><circle cx="136.6" cy="418.5" r="2.35" fill="#ff0000" stroke="#000" stroke-width="0.55"/><circle cx="142.7" cy="421.1" r="2.35" fill="#ff0000" stroke="#000" stroke-width="0.55"/><circle cx="151.9" cy="416.1" r="2.35" fill="#ff0000" stroke="#000" stroke-width="0.55"/><circle cx="153.5" cy="421.1" r="2.35" fill="#ff0000" stroke="#000" stroke-width="0.55"/><circle cx="163.9" cy="413.7" r="2.35" fill="#ff0000" stroke="#000" stroke-width="0.55"/><circle cx="141.5" cy="428.1" r="2.35" fill="#ff0000" stroke="#000" stroke-width="0.55"/><circle cx="144.7" cy="427.7" r="2.35" fill="#ff0000" stroke="#000" stroke-width="0.55"/><circle cx="140.7" cy="431.7" r="2.35" fill="#ff0000" stroke="#000" stroke-width="0.55"/><circle cx="153.5" cy="427.3" r="2.35" fill="#ff0000" stroke="#000" stroke-width="0.55"/><circle cx="158.1" cy="427.1" r="2.35" fill="#ff0000" stroke="#000" stroke-width="0.55"/><circle cx="155.1" cy="431.1" r="2.35" fill="#ff0000" stroke="#000" stroke-width="0.55"/><circle cx="161.5" cy="430.5" r="2.35" fill="#ff0000" stroke="#000" stroke-width="0.55"/><circle cx="150.1" cy="433.1" r="2.35" fill="#ff0000" stroke="#000" stroke-width="0.55"/><circle cx="148.7" cy="436.1" r="2.35" fill="#ff0000" stroke="#000" stroke-width="0.55"/><circle cx="153.1" cy="435.1" r="2.35" fill="#ff0000" stroke="#000" stroke-width="0.55"/><circle cx="151.1" cy="439.1" r="2.35" fill="#ff0000" stroke="#000" stroke-width="0.55"/><circle cx="154.1" cy="439.7" r="2.35" fill="#ff0000" stroke="#000" stroke-width="0.55"/><circle cx="162.3" cy="436.7" r="2.35" fill="#ff0000" stroke="#000" stroke-width="0.55"/><circle cx="173.1" cy="422.5" r="2.35" fill="#ff0000" stroke="#000" stroke-width="0.55"/><circle cx="163.1" cy="442.1" r="2.35" fill="#ff0000" stroke="#000" stroke-width="0.55"/><circle cx="167.5" cy="440.1" r="2.35" fill="#ff0000" stroke="#000" stroke-width="0.55"/><circle cx="169.1" cy="443.1" r="2.35" fill="#ff0000" stroke="#000" stroke-width="0.55"/><circle cx="166.7" cy="442.5" r="2.35" fill="#ff0000" stroke="#000" stroke-width="0.55"/><circle cx="157.1" cy="445.1" r="2.35" fill="#ff0000" stroke="#000" stroke-width="0.55"/><circle cx="160.7" cy="447.1" r="2.35" fill="#ff0000" stroke="#000" stroke-width="0.55"/><circle cx="166.7" cy="446.5" r="2.35" fill="#ff0000" stroke="#000" stroke-width="0.55"/><circle cx="170.7" cy="446.1" r="2.35" fill="#ff0000" stroke="#000" stroke-width="0.55"/><circle cx="133.4" cy="443.1" r="2.35" fill="#ff0000" stroke="#000" stroke-width="0.55"/><circle cx="133.0" cy="449.1" r="2.35" fill="#ff0000" stroke="#000" stroke-width="0.55"/><circle cx="138.6" cy="451.1" r="2.35" fill="#ff0000" stroke="#000" stroke-width="0.55"/><circle cx="155.1" cy="449.7" r="2.35" fill="#ff0000" stroke="#000" stroke-width="0.55"/><circle cx="176.7" cy="449.7" r="2.35" fill="#ff0000" stroke="#000" stroke-width="0.55"/><circle cx="145.5" cy="457.2" r="2.35" fill="#ff0000" stroke="#000" stroke-width="0.55"/><circle cx="164.1" cy="456.2" r="2.35" fill="#ff0000" stroke="#000" stroke-width="0.55"/><circle cx="157.1" cy="462.6" r="2.35" fill="#ff0000" stroke="#000" stroke-width="0.55"/><path d="M416.6,403.7 L419.9,408.6 L422.8,392.7 L425.9,396.8 L429.0,390.5 L432.0,382.1 L436.0,397.0 L439.1,398.6 L442.6,386.4 L445.3,394.3 L448.6,422.2 L451.4,401.9 L454.1,409.7 L457.4,402.4 L460.7,405.9 L464.0,410.5 L467.3,397.7 L470.6,405.8 L473.9,394.3 L476.8,414.8 L480.1,390.5 L482.8,408.6 L486.1,405.1 L489.4,403.0 L492.7,412.5 L496.0,400.4 L498.8,403.9 L502.2,396.4 L505.2,412.9 L508.8,390.3 L511.9,401.8 L514.4,393.7 L517.7,404.7 L521.0,398.4 L523.7,404.7 L527.2,407.5 L531.0,410.1 L533.8,412.3 L536.9,412.5 L539.8,411.5 L543.1,411.9 L545.7,398.3 L549.2,411.3 L552.3,391.5 L555.9,413.4 L558.9,406.3 L561.8,404.1 L564.7,391.6 L567.8,409.1 L571.3,401.4 L574.4,411.8 L577.2,402.9 L580.5,398.4 L583.9,413.8 L587.2,416.4 L590.5,400.6 L593.8,414.7 L596.4,396.4 L599.9,392.4 L603.0,420.8 L606.6,414.8 L609.6,405.4 L612.5,415.9 L615.4,401.1 L615.4,422.1 L612.5,435.9 L609.6,428.8 L606.6,430.4 L603.0,435.4 L599.9,413.2 L596.4,415.8 L593.8,434.9 L590.5,416.0 L587.2,433.2 L583.9,435.8 L580.5,422.6 L577.2,426.9 L574.4,435.6 L571.3,424.0 L567.8,429.5 L564.7,409.4 L561.8,421.3 L558.9,423.5 L555.9,427.4 L552.3,407.3 L549.2,431.7 L545.7,413.9 L543.1,433.3 L539.8,433.7 L536.9,428.3 L533.8,432.9 L531.0,432.9 L527.2,428.9 L523.7,418.5 L521.0,422.6 L517.7,427.3 L514.4,409.5 L511.9,419.2 L508.8,412.9 L505.2,436.7 L502.2,415.8 L498.8,423.7 L496.0,416.2 L492.7,428.3 L489.4,426.8 L486.1,422.5 L482.8,425.6 L480.1,406.1 L476.8,432.6 L473.9,417.9 L470.6,419.6 L467.3,412.3 L464.0,434.7 L460.7,423.9 L457.4,420.8 L454.1,428.9 L451.4,416.9 L448.6,442.8 L445.3,415.7 L442.6,401.4 L439.1,420.2 L436.0,413.0 L432.0,396.9 L429.0,405.5 L425.9,417.6 L422.8,410.5 L419.9,423.4 L416.6,417.3 Z" fill="#ee9c7c" fill-opacity="0.38"/><path d="M416.6,397.8 L419.9,393.7 L422.8,402.1 L425.4,390.0 L428.7,404.4 L432.0,393.3 L435.4,409.8 L438.7,405.4 L442.0,410.2 L444.2,385.4 L447.5,389.7 L450.8,392.4 L454.1,400.6 L457.4,390.4 L460.3,395.3 L463.6,388.7 L466.9,399.3 L470.2,427.3 L473.5,391.5 L476.1,401.4 L479.4,386.4 L482.8,409.3 L486.1,401.1 L489.0,399.8 L492.0,363.2 L496.0,370.0 L500.0,377.5 L502.6,373.8 L507.0,364.9 L511.4,367.1 L514.4,367.6 L517.7,365.4 L520.6,373.4 L523.7,361.2 L527.2,367.5 L530.3,369.2 L533.8,363.4 L536.9,361.0 L539.8,359.8 L542.6,353.3 L546.4,357.6 L549.7,361.7 L552.3,354.6 L555.6,353.9 L558.5,359.7 L561.8,353.6 L565.1,359.5 L568.4,389.0 L571.3,373.6 L574.4,375.1 L577.2,373.7 L580.5,375.7 L583.9,391.1 L587.2,380.2 L590.5,388.0 L593.8,393.5 L597.1,386.6 L600.4,388.4 L603.7,381.7 L607.0,389.2 L610.3,393.7 L613.6,389.7 L615.4,400.0 L615.4,421.0 L613.6,413.5 L610.3,407.3 L607.0,403.0 L603.7,397.3 L600.4,406.0 L597.1,403.4 L593.8,407.5 L590.5,408.6 L587.2,394.4 L583.9,405.5 L580.5,396.7 L577.2,392.1 L574.4,397.3 L571.3,392.2 L568.4,403.2 L565.1,377.7 L561.8,377.8 L558.5,377.5 L555.6,370.1 L552.3,371.6 L549.7,377.7 L546.4,377.4 L542.6,375.1 L539.8,379.6 L536.9,380.6 L533.8,384.8 L530.3,391.4 L527.2,382.9 L523.7,384.8 L520.6,390.2 L517.7,380.6 L514.4,385.0 L511.4,381.1 L507.0,378.9 L502.6,387.6 L500.0,392.7 L496.0,384.8 L492.0,387.2 L489.0,414.6 L486.1,415.5 L482.8,424.9 L479.4,410.2 L476.1,424.0 L473.5,414.1 L470.2,448.7 L466.9,412.9 L463.6,403.5 L460.3,416.9 L457.4,404.0 L454.1,418.2 L450.8,415.4 L447.5,413.5 L444.2,404.6 L442.0,432.8 L438.7,424.4 L435.4,424.4 L432.0,414.5 L428.7,423.2 L425.4,413.2 L422.8,418.9 L419.9,409.5 L416.6,412.2 Z" fill="#f4cf80" fill-opacity="0.4"/><path d="M416.6,373.6 L419.9,361.2 L423.2,362.5 L426.5,365.2 L429.4,371.0 L432.0,364.3 L434.7,374.1 L437.6,371.2 L440.9,374.3 L444.2,370.1 L447.9,365.2 L451.4,369.0 L455.2,367.2 L458.5,361.1 L461.8,357.4 L465.1,353.5 L467.8,354.1 L470.6,348.0 L473.9,357.5 L476.8,364.2 L480.1,351.4 L483.2,344.6 L486.0,365.6 L489.4,351.9 L492.7,357.5 L496.0,362.7 L500.4,357.7 L504.8,356.1 L509.2,357.5 L511.9,358.3 L514.7,346.5 L518.0,358.9 L521.0,353.3 L523.7,357.3 L527.2,346.1 L530.3,356.2 L533.8,351.1 L536.9,348.7 L539.8,344.5 L543.1,345.2 L546.4,349.7 L550.8,347.6 L555.2,347.0 L559.6,349.6 L562.9,352.2 L566.2,349.0 L569.5,355.1 L572.8,363.8 L576.1,370.4 L578.8,374.7 L581.0,373.7 L583.9,362.8 L587.2,372.9 L590.5,378.4 L593.8,376.6 L596.4,382.1 L599.3,386.4 L602.6,375.3 L605.9,382.9 L609.2,359.3 L612.5,366.1 L615.4,372.5 L615.4,393.3 L612.5,384.3 L609.2,375.7 L605.9,400.5 L602.6,392.7 L599.3,405.8 L596.4,396.9 L593.8,391.4 L590.5,394.0 L587.2,386.3 L583.9,378.8 L581.0,387.7 L578.8,388.9 L576.1,384.4 L572.8,382.2 L569.5,375.5 L566.2,370.6 L562.9,365.2 L559.6,363.4 L555.2,361.6 L550.8,364.4 L546.4,365.5 L543.1,363.4 L539.8,357.3 L536.9,364.3 L533.8,366.3 L530.3,372.2 L527.2,360.1 L523.7,377.7 L521.0,375.1 L518.0,373.9 L514.7,362.1 L511.9,381.1 L509.2,370.9 L504.8,370.1 L500.4,377.3 L496.0,381.1 L492.7,379.7 L489.4,373.3 L486.0,382.6 L483.2,364.8 L480.1,370.4 L476.8,377.4 L473.9,375.3 L470.6,364.0 L467.8,369.9 L465.1,372.7 L461.8,379.8 L458.5,378.3 L455.2,385.4 L451.4,391.6 L447.9,383.0 L444.2,389.1 L440.9,393.7 L437.6,385.8 L434.7,396.1 L432.0,386.1 L429.4,390.4 L426.5,380.8 L423.2,383.5 L419.9,380.4 L416.6,392.2 Z" fill="#b0d8ac" fill-opacity="0.42"/><path d="M416.6,410.5 L419.9,416.0 L422.8,401.6 L425.9,407.2 L429.0,398.0 L432.0,389.5 L436.0,405.0 L439.1,409.4 L442.6,393.9 L445.3,405.0 L448.6,432.5 L451.4,409.4 L454.1,419.3 L457.4,411.6 L460.7,414.9 L464.0,422.6 L467.3,405.0 L470.6,412.7 L473.9,406.1 L476.8,423.7 L480.1,398.3 L482.8,417.1 L486.1,413.8 L489.4,414.9 L492.7,420.4 L496.0,408.3 L498.8,413.8 L502.2,406.1 L505.2,424.8 L508.8,401.6 L511.9,410.5 L514.4,401.6 L517.7,416.0 L521.0,410.5 L523.7,411.6 L527.2,418.2 L531.0,421.5 L533.8,422.6 L536.9,420.4 L539.8,422.6 L543.1,422.6 L545.7,406.1 L549.2,421.5 L552.3,399.4 L555.9,420.4 L558.9,414.9 L561.8,412.7 L564.7,400.5 L567.8,419.3 L571.3,412.7 L574.4,423.7 L577.2,414.9 L580.5,410.5 L583.9,424.8 L587.2,424.8 L590.5,408.3 L593.8,424.8 L596.4,406.1 L599.9,402.8 L603.0,428.1 L606.6,422.6 L609.6,417.1 L612.5,425.9 L615.4,411.6" fill="none" stroke="#e0520e" stroke-width="1.5" stroke-linejoin="round"/><path d="M416.6,405.0 L419.9,401.6 L422.8,410.5 L425.4,401.6 L428.7,413.8 L432.0,403.9 L435.4,417.1 L438.7,414.9 L442.0,421.5 L444.2,395.0 L447.5,401.6 L450.8,403.9 L454.1,409.4 L457.4,397.2 L460.3,406.1 L463.6,396.1 L466.9,406.1 L470.2,438.0 L473.5,402.8 L476.1,412.7 L479.4,398.3 L482.8,417.1 L486.1,408.3 L489.0,407.2 L492.0,375.2 L496.0,377.4 L500.0,385.1 L502.6,380.7 L507.0,371.9 L511.4,374.1 L514.4,376.3 L517.7,373.0 L520.6,381.8 L523.7,373.0 L527.2,375.2 L530.3,380.3 L533.8,374.1 L536.9,370.8 L539.8,369.7 L542.6,364.2 L546.4,367.5 L549.7,369.7 L552.3,363.1 L555.6,362.0 L558.5,368.6 L561.8,365.7 L565.1,368.6 L568.4,396.1 L571.3,382.9 L574.4,386.2 L577.2,382.9 L580.5,386.2 L583.9,398.3 L587.2,387.3 L590.5,398.3 L593.8,400.5 L597.1,395.0 L600.4,397.2 L603.7,389.5 L607.0,396.1 L610.3,400.5 L613.6,401.6 L615.4,410.5" fill="none" stroke="#eaa61c" stroke-width="1.5" stroke-linejoin="round"/><path d="M416.6,382.9 L419.9,370.8 L423.2,373.0 L426.5,373.0 L429.4,380.7 L432.0,375.2 L434.7,385.1 L437.6,378.5 L440.9,384.0 L444.2,379.6 L447.9,374.1 L451.4,380.3 L455.2,376.3 L458.5,369.7 L461.8,368.6 L465.1,363.1 L467.8,362.0 L470.6,356.0 L473.9,366.4 L476.8,370.8 L480.1,360.9 L483.2,354.7 L486.0,374.1 L489.4,362.6 L492.7,368.6 L496.0,371.9 L500.4,367.5 L504.8,363.1 L509.2,364.2 L511.9,369.7 L514.7,354.3 L518.0,366.4 L521.0,364.2 L523.7,367.5 L527.2,353.1 L530.3,364.2 L533.8,358.7 L536.9,356.5 L539.8,350.9 L543.1,354.3 L546.4,357.6 L550.8,356.0 L555.2,354.3 L559.6,356.5 L562.9,358.7 L566.2,359.8 L569.5,365.3 L572.8,373.0 L576.1,377.4 L578.8,381.8 L581.0,380.7 L583.9,370.8 L587.2,379.6 L590.5,386.2 L593.8,384.0 L596.4,389.5 L599.3,396.1 L602.6,384.0 L605.9,391.7 L609.2,367.5 L612.5,375.2 L615.4,382.9" fill="none" stroke="#7cc07a" stroke-width="1.5" stroke-linejoin="round"/><line x1="489.4" y1="313" x2="489.4" y2="483" stroke="#444" stroke-width="1" stroke-dasharray="4.8,2.4"/><line x1="564.8" y1="313" x2="564.8" y2="483" stroke="#444" stroke-width="1" stroke-dasharray="4.8,2.4"/><line x1="414" y1="312.6" x2="414" y2="483.8" stroke="#555" stroke-width="1.1"/><line x1="413.5" y1="483.3" x2="615.6" y2="483.3" stroke="#555" stroke-width="1.1"/><line x1="414" y1="313.1" x2="417.6" y2="313.1" stroke="#555" stroke-width="1"/><text x="392.2" y="316.5" font-family="Liberation Sans, sans-serif" font-size="9.4" textLength="15.6" lengthAdjust="spacingAndGlyphs" fill="#222">4.0</text><line x1="414" y1="341.5" x2="417.6" y2="341.5" stroke="#555" stroke-width="1"/><text x="392.2" y="344.9" font-family="Liberation Sans, sans-serif" font-size="9.4" textLength="15.6" lengthAdjust="spacingAndGlyphs" fill="#222">3.5</text><line x1="414" y1="369.8" x2="417.6" y2="369.8" stroke="#555" stroke-width="1"/><text x="392.2" y="373.2" font-family="Liberation Sans, sans-serif" font-size="9.4" textLength="15.6" lengthAdjust="spacingAndGlyphs" fill="#222">3.0</text><line x1="414" y1="398.2" x2="417.6" y2="398.2" stroke="#555" stroke-width="1"/><text x="392.2" y="401.6" font-family="Liberation Sans, sans-serif" font-size="9.4" textLength="15.6" lengthAdjust="spacingAndGlyphs" fill="#222">2.5</text><line x1="414" y1="426.5" x2="417.6" y2="426.5" stroke="#555" stroke-width="1"/><text x="392.2" y="429.9" font-family="Liberation Sans, sans-serif" font-size="9.4" textLength="15.6" lengthAdjust="spacingAndGlyphs" fill="#222">2.0</text><line x1="414" y1="454.9" x2="417.6" y2="454.9" stroke="#555" stroke-width="1"/><text x="392.2" y="458.3" font-family="Liberation Sans, sans-serif" font-size="9.4" textLength="15.6" lengthAdjust="spacingAndGlyphs" fill="#222">1.5</text><line x1="414" y1="483.3" x2="417.6" y2="483.3" stroke="#555" stroke-width="1"/><text x="392.2" y="486.7" font-family="Liberation Sans, sans-serif" font-size="9.4" textLength="15.6" lengthAdjust="spacingAndGlyphs" fill="#222">1.0</text><line x1="451.3" y1="479.3" x2="451.3" y2="483.2" stroke="#555" stroke-width="1"/><text x="451.3" y="497.6" font-family="Liberation Sans, sans-serif" font-size="11.8" text-anchor="middle" fill="#222">ACQ</text><line x1="527.2" y1="479.3" x2="527.2" y2="483.2" stroke="#555" stroke-width="1"/><text x="527.2" y="497.6" font-family="Liberation Sans, sans-serif" font-size="11.8" text-anchor="middle" fill="#222">EXT</text><line x1="590.2" y1="479.3" x2="590.2" y2="483.2" stroke="#555" stroke-width="1"/><text x="590.2" y="497.6" font-family="Liberation Sans, sans-serif" font-size="11.8" text-anchor="middle" fill="#222">TEST</text><text x="0" y="0" font-family="Liberation Sans, sans-serif" font-size="12" text-anchor="middle" fill="#222" transform="translate(384.6 325.8) rotate(-90)">Safe</text><text x="0" y="0" font-family="Liberation Sans, sans-serif" font-size="12" text-anchor="middle" fill="#222" transform="translate(385.4 452) rotate(-90)">Dangerous</text><line x1="455" y1="457.9" x2="489" y2="457.9" stroke="#8a8a8a" stroke-width="3.6"/><line x1="445" y1="465.8" x2="574.7" y2="465.8" stroke="#a04a0a" stroke-width="3"/><line x1="517.7" y1="474.9" x2="565" y2="474.9" stroke="#ea5a0e" stroke-width="3"/><rect x="632.5" y="301.8" width="11.2" height="11" fill="#cc0000"/><text x="650" y="310.6" font-family="Liberation Sans, sans-serif" font-size="11.5" fill="#222">CS++</text><rect x="632.5" y="319.0" width="11.2" height="11" fill="#e8b84a"/><text x="650" y="327.8" font-family="Liberation Sans, sans-serif" font-size="11.5" fill="#222">CS+<tspan dx="0.3">–</tspan></text><rect x="632.5" y="336.2" width="11.2" height="11" fill="#8cc48c"/><text x="650" y="345.0" font-family="Liberation Sans, sans-serif" font-size="11.5" fill="#222">CS<tspan dx="0.3">–</tspan><tspan dx="1.2">–</tspan></text>
</svg></body></html>
